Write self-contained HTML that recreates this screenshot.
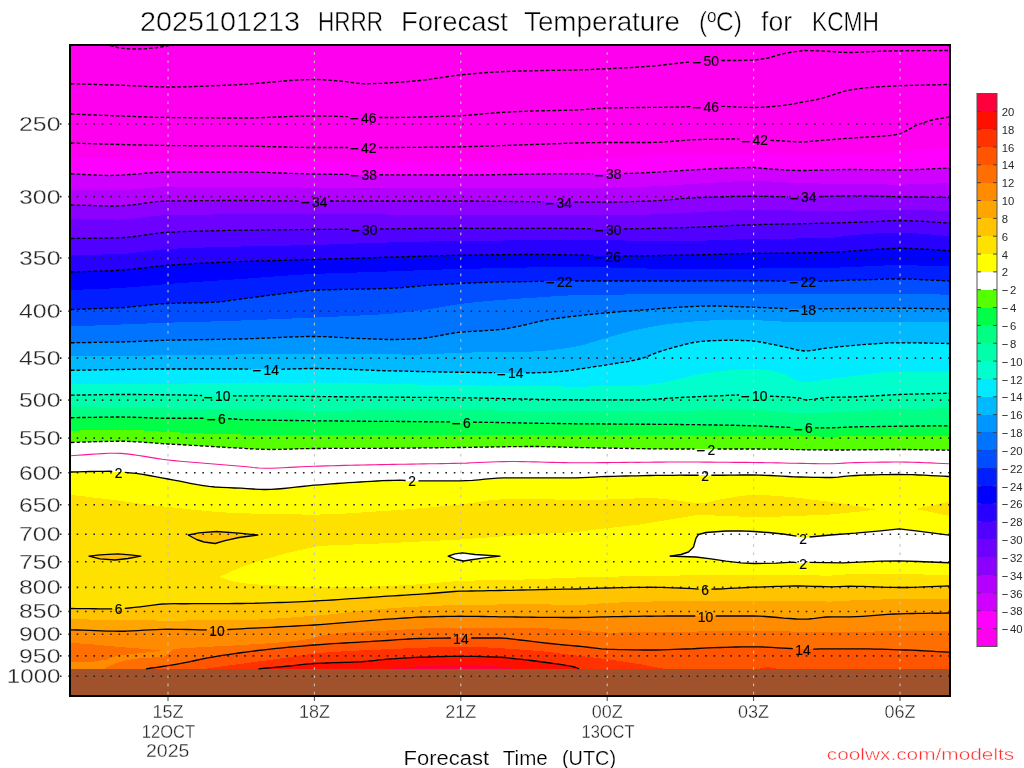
<!DOCTYPE html>
<html lang="en"><head><meta charset="utf-8"><title>2025101213 HRRR Forecast Temperature for KCMH</title>
<style>html,body{margin:0;padding:0;background:#fff;width:1024px;height:768px;overflow:hidden}</style>
</head><body>
<svg width="1024" height="768" viewBox="0 0 1024 768" style="position:absolute;left:0;top:0">
<rect x="0" y="0" width="1024" height="768" fill="#fff"/>
<defs><clipPath id="pc"><rect x="71" y="46" width="878" height="649"/></clipPath></defs>
<g clip-path="url(#pc)" shape-rendering="crispEdges">
<rect x="71" y="46" width="878" height="649" fill="rgb(255,0,238)"/>
<path d="M70.0 158.0 L71.0 158.0 L77.1 158.1 L83.1 158.1 L89.2 158.2 L95.2 158.2 L101.3 158.3 L107.4 158.4 L113.4 158.4 L119.5 158.5 L125.6 158.5 L131.6 158.6 L137.7 158.7 L143.8 158.7 L149.8 158.8 L155.9 158.9 L161.9 158.9 L168.0 159.0 L174.1 159.1 L180.2 159.2 L186.2 159.2 L192.3 159.3 L198.4 159.4 L204.5 159.6 L210.6 159.7 L216.7 159.8 L222.8 159.9 L228.8 160.0 L234.9 160.1 L241.0 160.2 L247.1 160.3 L253.2 160.4 L259.2 160.5 L265.3 160.6 L271.4 160.7 L277.5 160.8 L283.6 160.8 L289.7 160.9 L295.8 160.9 L301.8 161.0 L307.9 161.0 L314.0 161.0 L320.1 161.0 L326.2 161.0 L332.2 161.0 L338.3 161.0 L344.4 161.0 L350.5 161.0 L356.6 161.0 L362.7 161.0 L368.8 161.0 L374.8 161.0 L380.9 161.0 L387.0 161.0 L393.1 161.0 L399.2 161.0 L405.2 161.0 L411.3 161.0 L417.4 161.0 L423.5 161.0 L429.6 161.0 L435.7 161.0 L441.8 161.0 L447.8 161.0 L453.9 161.0 L460.0 161.0 L466.1 161.0 L472.2 161.0 L478.3 161.0 L484.4 161.0 L490.5 160.9 L496.6 160.9 L502.7 160.9 L508.8 160.8 L514.9 160.8 L521.1 160.7 L527.2 160.7 L533.3 160.6 L539.4 160.5 L545.5 160.5 L551.6 160.4 L557.7 160.3 L563.8 160.2 L569.9 160.1 L576.0 160.0 L582.2 159.8 L588.4 159.4 L594.6 158.9 L600.8 158.4 L607.0 158.0 L612.8 157.7 L618.6 157.5 L624.4 157.3 L630.2 157.1 L636.1 156.9 L641.9 156.7 L647.7 156.5 L653.5 156.3 L659.3 156.2 L665.1 156.0 L670.9 155.8 L676.8 155.7 L682.6 155.5 L688.4 155.3 L694.2 155.2 L700.0 155.0 L705.9 154.8 L711.8 154.6 L717.7 154.4 L723.6 154.2 L729.4 154.0 L735.3 153.8 L741.2 153.6 L747.1 153.5 L753.0 153.5 L758.9 153.6 L764.8 153.9 L770.6 154.3 L776.5 154.8 L782.4 155.2 L788.2 155.6 L794.1 155.9 L800.0 156.0 L806.2 155.9 L812.5 155.8 L818.8 155.5 L825.0 155.2 L831.2 154.9 L837.5 154.6 L843.8 154.3 L850.0 154.0 L856.2 153.8 L862.5 153.5 L868.8 153.3 L875.0 153.1 L881.2 152.9 L887.5 152.6 L893.8 152.3 L900.0 152.0 L906.1 151.6 L912.2 151.1 L918.4 150.4 L924.5 149.8 L930.6 149.1 L936.8 148.4 L942.9 147.7 L949.0 147.0 L950.0 147.0 L950.0 696.0 L70.0 696.0Z" fill="rgb(255,0,255)"/>
<path d="M70.0 173.8 L71.0 173.8 L77.5 174.1 L84.0 174.5 L90.5 174.8 L97.0 175.2 L103.5 175.4 L110.0 175.5 L115.8 175.4 L121.6 175.1 L127.4 174.7 L133.2 174.3 L139.0 173.8 L144.8 173.2 L150.6 172.8 L156.4 172.4 L162.2 172.1 L168.0 172.0 L174.1 172.0 L180.2 172.0 L186.2 172.0 L192.3 172.0 L198.4 172.0 L204.5 172.0 L210.6 172.0 L216.7 172.0 L222.8 172.0 L228.8 172.0 L234.9 172.0 L241.0 172.0 L247.1 172.0 L253.2 172.1 L259.2 172.3 L265.3 172.4 L271.4 172.6 L277.5 172.9 L283.6 173.1 L289.7 173.3 L295.8 173.5 L301.8 173.7 L307.9 173.9 L314.0 174.0 L320.1 174.1 L326.2 174.2 L332.2 174.3 L338.3 174.3 L344.4 174.4 L350.5 174.5 L356.6 174.5 L362.7 174.6 L368.8 174.6 L374.8 174.7 L380.9 174.7 L387.0 174.8 L393.1 174.8 L399.2 174.8 L405.2 174.8 L411.3 174.9 L417.4 174.9 L423.5 174.9 L429.6 174.9 L435.7 175.0 L441.8 175.0 L447.8 175.0 L453.9 175.0 L460.0 175.0 L466.1 175.0 L472.2 175.0 L478.3 174.9 L484.4 174.9 L490.5 174.8 L496.6 174.7 L502.7 174.6 L508.8 174.5 L514.9 174.4 L521.1 174.3 L527.2 174.2 L533.3 174.1 L539.4 174.0 L545.5 174.0 L551.6 173.9 L557.7 173.8 L563.8 173.8 L569.9 173.8 L576.0 173.8 L582.2 173.8 L588.3 173.8 L594.5 173.8 L600.7 173.8 L606.8 173.8 L613.0 173.8 L619.2 173.7 L625.3 173.5 L631.5 173.3 L637.7 173.1 L643.8 172.8 L650.0 172.5 L656.2 172.2 L662.5 171.8 L668.8 171.4 L675.0 171.0 L681.2 170.6 L687.5 170.2 L693.8 169.8 L700.0 169.5 L705.9 169.2 L711.8 168.9 L717.7 168.6 L723.6 168.3 L729.4 168.1 L735.3 167.8 L741.2 167.7 L747.1 167.5 L753.0 167.5 L760.5 168.0 L768.0 168.8 L774.4 169.2 L780.8 169.7 L787.2 170.1 L793.6 170.4 L800.0 170.5 L806.2 170.5 L812.5 170.3 L818.8 170.2 L825.0 170.0 L831.2 169.8 L837.5 169.7 L843.8 169.5 L850.0 169.5 L856.2 169.5 L862.5 169.6 L868.8 169.7 L875.0 169.8 L881.2 169.8 L887.5 169.9 L893.8 170.0 L900.0 170.0 L906.1 169.9 L912.2 169.8 L918.4 169.5 L924.5 169.2 L930.6 168.9 L936.8 168.6 L942.9 168.3 L949.0 168.0 L950.0 168.0 L950.0 696.0 L70.0 696.0Z" fill="rgb(207,0,255)"/>
<path d="M70.0 189.5 L71.0 189.5 L77.1 189.6 L83.2 189.6 L89.4 189.7 L95.5 189.8 L101.6 189.9 L107.8 189.9 L113.9 190.0 L120.0 190.0 L126.0 189.9 L132.0 189.5 L138.0 189.1 L144.0 188.5 L150.0 187.9 L156.0 187.5 L162.0 187.1 L168.0 187.0 L174.1 187.0 L180.2 187.0 L186.2 187.0 L192.3 187.0 L198.4 187.0 L204.5 187.1 L210.6 187.1 L216.7 187.1 L222.8 187.1 L228.8 187.1 L234.9 187.2 L241.0 187.2 L247.1 187.2 L253.2 187.2 L259.2 187.3 L265.3 187.3 L271.4 187.3 L277.5 187.4 L283.6 187.4 L289.7 187.4 L295.8 187.4 L301.8 187.5 L307.9 187.5 L314.0 187.5 L320.1 187.5 L326.2 187.5 L332.2 187.6 L338.3 187.6 L344.4 187.6 L350.5 187.6 L356.6 187.7 L362.7 187.7 L368.8 187.7 L374.8 187.8 L380.9 187.8 L387.0 187.8 L393.1 187.8 L399.2 187.9 L405.2 187.9 L411.3 187.9 L417.4 187.9 L423.5 187.9 L429.6 188.0 L435.7 188.0 L441.8 188.0 L447.8 188.0 L453.9 188.0 L460.0 188.0 L466.1 188.0 L472.2 188.0 L478.3 188.0 L484.4 188.0 L490.5 188.0 L496.6 188.0 L502.7 188.0 L508.8 188.0 L514.9 188.0 L521.1 188.0 L527.2 188.0 L533.3 188.0 L539.4 188.0 L545.5 188.0 L551.6 188.0 L557.7 188.0 L563.8 188.0 L569.9 188.0 L576.0 188.0 L582.2 188.0 L588.3 187.9 L594.5 187.9 L600.7 187.8 L606.8 187.7 L613.0 187.5 L619.2 187.4 L625.3 187.2 L631.5 187.1 L637.7 186.9 L643.8 186.7 L650.0 186.5 L656.2 186.3 L662.5 185.9 L668.8 185.6 L675.0 185.1 L681.2 184.7 L687.5 184.3 L693.8 183.9 L700.0 183.5 L705.9 183.2 L711.8 182.8 L717.7 182.4 L723.6 182.1 L729.4 181.7 L735.3 181.4 L741.2 181.2 L747.1 181.1 L753.0 181.0 L758.9 181.1 L764.8 181.2 L770.6 181.5 L776.5 181.8 L782.4 182.2 L788.2 182.5 L794.1 182.8 L800.0 183.0 L806.4 183.2 L812.8 183.4 L819.2 183.5 L825.6 183.6 L832.0 183.8 L838.2 183.8 L844.4 183.9 L850.5 184.0 L856.7 184.1 L862.9 184.2 L869.1 184.3 L875.3 184.4 L881.5 184.4 L887.6 184.5 L893.8 184.5 L900.0 184.5 L906.1 184.5 L912.2 184.3 L918.4 184.2 L924.5 183.9 L930.6 183.7 L936.8 183.4 L942.9 183.2 L949.0 183.0 L950.0 183.0 L950.0 696.0 L70.0 696.0Z" fill="rgb(180,0,255)"/>
<path d="M70.0 205.0 L71.0 205.0 L77.3 205.2 L83.6 205.3 L89.9 205.5 L96.1 205.7 L102.4 205.9 L108.7 206.0 L115.0 206.0 L120.9 205.8 L126.8 205.4 L132.7 204.8 L138.6 204.0 L144.4 203.2 L150.3 202.4 L156.2 201.7 L162.1 201.2 L168.0 201.0 L174.1 200.9 L180.2 200.8 L186.2 200.8 L192.3 200.7 L198.4 200.7 L204.5 200.6 L210.6 200.6 L216.7 200.6 L222.8 200.5 L228.8 200.5 L234.9 200.5 L241.0 200.5 L246.9 200.5 L252.8 200.6 L258.7 200.6 L264.6 200.7 L270.5 200.8 L276.4 200.8 L282.3 200.9 L288.2 200.9 L294.1 201.0 L300.0 201.0 L306.7 201.0 L313.3 201.0 L320.0 201.0 L326.1 201.0 L332.2 201.0 L338.3 201.0 L344.3 201.0 L350.4 201.0 L356.5 201.0 L362.6 201.0 L368.7 201.0 L374.8 201.0 L380.9 201.0 L387.0 201.0 L393.0 201.0 L399.1 201.0 L405.2 201.0 L411.3 201.0 L417.4 201.0 L423.5 201.0 L429.6 201.0 L435.7 201.0 L441.7 201.0 L447.8 201.0 L453.9 201.0 L460.0 201.0 L466.1 201.0 L472.2 201.0 L478.3 201.1 L484.4 201.1 L490.5 201.2 L496.6 201.2 L502.7 201.3 L508.8 201.4 L514.9 201.5 L521.1 201.5 L527.2 201.6 L533.3 201.7 L539.4 201.8 L545.5 201.8 L551.6 201.9 L557.7 201.9 L563.8 202.0 L569.9 202.0 L576.0 202.0 L582.2 202.0 L588.4 202.0 L594.6 202.0 L600.8 202.0 L607.0 202.0 L613.1 202.0 L619.3 201.9 L625.4 201.8 L631.6 201.6 L637.7 201.4 L643.9 201.2 L650.0 201.0 L656.2 200.7 L662.5 200.3 L668.8 199.8 L675.0 199.3 L681.2 198.7 L687.5 198.2 L693.8 197.8 L700.0 197.5 L705.9 197.3 L711.8 197.1 L717.7 196.9 L723.6 196.7 L729.4 196.6 L735.3 196.4 L741.2 196.3 L747.1 196.3 L753.0 196.2 L759.2 196.3 L765.3 196.4 L771.5 196.5 L777.7 196.6 L783.8 196.7 L790.0 196.8 L796.0 196.7 L802.0 196.7 L808.0 196.6 L814.0 196.6 L820.0 196.5 L826.0 196.4 L832.0 196.2 L838.0 196.1 L844.0 195.9 L850.0 195.8 L856.2 195.8 L862.5 195.9 L868.8 196.0 L875.0 196.1 L881.2 196.3 L887.5 196.5 L893.8 196.6 L900.0 196.8 L906.1 196.9 L912.2 197.0 L918.4 197.0 L924.5 197.1 L930.6 197.2 L936.8 197.3 L942.9 197.4 L949.0 197.5 L950.0 197.5 L950.0 696.0 L70.0 696.0Z" fill="rgb(140,0,255)"/>
<path d="M70.0 219.0 L71.0 219.0 L77.1 219.1 L83.2 219.1 L89.4 219.2 L95.5 219.3 L101.6 219.4 L107.8 219.4 L113.9 219.5 L120.0 219.5 L126.0 219.3 L132.0 218.8 L138.0 218.1 L144.0 217.3 L150.0 216.5 L156.0 215.8 L162.0 215.3 L168.0 215.0 L174.1 214.9 L180.2 214.8 L186.2 214.7 L192.3 214.7 L198.4 214.6 L204.5 214.5 L210.6 214.5 L216.7 214.4 L222.8 214.4 L228.8 214.3 L234.9 214.3 L241.0 214.2 L247.1 214.2 L253.2 214.2 L259.2 214.1 L265.3 214.1 L271.4 214.1 L277.5 214.1 L283.6 214.0 L289.7 214.0 L295.8 214.0 L301.8 214.0 L307.9 214.0 L314.0 214.0 L320.1 214.0 L326.2 214.0 L332.2 214.0 L338.3 214.1 L344.4 214.1 L350.5 214.2 L356.6 214.2 L362.7 214.3 L368.8 214.3 L374.8 214.4 L380.9 214.4 L387.0 214.5 L393.1 214.6 L399.2 214.6 L405.2 214.7 L411.3 214.7 L417.4 214.8 L423.5 214.8 L429.6 214.9 L435.7 214.9 L441.8 215.0 L447.8 215.0 L453.9 215.0 L460.0 215.0 L466.1 215.0 L472.2 215.0 L478.3 215.0 L484.4 215.0 L490.5 215.0 L496.6 215.0 L502.7 215.0 L508.8 215.0 L514.9 215.0 L521.1 215.0 L527.2 215.0 L533.3 215.0 L539.4 215.0 L545.5 215.0 L551.6 215.0 L557.7 215.0 L563.8 215.0 L569.9 215.0 L576.0 215.0 L582.2 215.0 L588.3 215.0 L594.5 215.0 L600.7 214.9 L606.8 214.9 L613.0 214.9 L619.2 214.8 L625.3 214.8 L631.5 214.7 L637.7 214.6 L643.8 214.6 L650.0 214.5 L656.2 214.4 L662.5 214.1 L668.8 213.8 L675.0 213.4 L681.2 213.1 L687.5 212.7 L693.8 212.3 L700.0 212.0 L705.9 211.7 L711.8 211.4 L717.7 211.1 L723.6 210.9 L729.4 210.6 L735.3 210.3 L741.2 210.2 L747.1 210.0 L753.0 210.0 L759.1 210.0 L765.2 210.1 L771.2 210.1 L777.3 210.2 L783.4 210.3 L789.5 210.4 L795.5 210.6 L801.6 210.7 L807.7 210.8 L813.8 210.9 L819.8 210.9 L825.9 211.0 L832.0 211.0 L838.2 211.0 L844.4 210.9 L850.5 210.7 L856.7 210.5 L862.9 210.4 L869.1 210.1 L875.3 210.0 L881.5 209.8 L887.6 209.6 L893.8 209.5 L900.0 209.5 L906.1 209.5 L912.2 209.7 L918.4 209.8 L924.5 210.1 L930.6 210.3 L936.8 210.6 L942.9 210.8 L949.0 211.0 L950.0 211.0 L950.0 696.0 L70.0 696.0Z" fill="rgb(110,0,255)"/>
<path d="M70.0 238.5 L71.0 238.5 L77.1 238.4 L83.2 238.3 L89.4 238.3 L95.5 238.2 L101.6 238.1 L107.8 238.0 L113.9 237.9 L120.0 237.8 L126.0 237.4 L132.0 236.8 L138.0 236.0 L144.0 235.1 L150.0 234.2 L156.0 233.4 L162.0 232.7 L168.0 232.2 L174.1 232.0 L180.2 231.7 L186.2 231.5 L192.3 231.3 L198.4 231.1 L204.5 231.0 L210.6 230.8 L216.7 230.7 L222.8 230.6 L228.8 230.4 L234.9 230.3 L241.0 230.2 L247.1 230.2 L253.2 230.1 L259.2 230.0 L265.3 229.9 L271.4 229.9 L277.5 229.8 L283.6 229.8 L289.7 229.7 L295.8 229.7 L301.8 229.6 L307.9 229.6 L314.0 229.5 L320.0 229.4 L326.0 229.4 L332.0 229.3 L338.0 229.3 L344.0 229.2 L350.0 229.2 L356.0 229.1 L362.0 229.1 L368.0 229.0 L374.1 228.9 L380.3 228.9 L386.4 228.8 L392.5 228.8 L398.7 228.7 L404.8 228.6 L410.9 228.6 L417.1 228.5 L423.2 228.4 L429.3 228.4 L435.5 228.3 L441.6 228.3 L447.7 228.3 L453.9 228.3 L460.0 228.2 L466.1 228.3 L472.2 228.3 L478.3 228.3 L484.4 228.3 L490.5 228.3 L496.6 228.3 L502.7 228.3 L508.8 228.3 L514.9 228.3 L521.1 228.3 L527.2 228.3 L533.3 228.3 L539.4 228.4 L545.5 228.4 L551.6 228.4 L557.7 228.4 L563.8 228.4 L569.9 228.5 L576.0 228.5 L582.2 228.6 L588.4 228.7 L594.6 228.8 L600.8 229.0 L607.0 229.0 L613.1 229.0 L619.2 228.9 L625.2 228.9 L631.3 228.8 L637.4 228.7 L643.5 228.6 L649.6 228.5 L655.7 228.3 L661.8 228.2 L667.8 228.0 L673.9 227.9 L680.0 227.8 L686.1 227.6 L692.2 227.4 L698.2 227.1 L704.3 226.9 L710.4 226.6 L716.5 226.3 L722.6 226.0 L728.7 225.7 L734.8 225.4 L740.8 225.2 L746.9 224.9 L753.0 224.8 L759.1 224.6 L765.2 224.4 L771.2 224.3 L777.3 224.2 L783.4 224.0 L789.5 223.9 L795.5 223.8 L801.6 223.7 L807.7 223.6 L813.8 223.4 L819.8 223.3 L825.9 223.2 L832.0 223.0 L838.3 222.8 L844.7 222.6 L851.0 222.4 L857.3 222.2 L863.7 222.0 L870.0 221.8 L876.0 221.5 L882.0 221.2 L888.0 220.8 L894.0 220.6 L900.0 220.5 L906.1 220.6 L912.2 220.8 L918.4 221.1 L924.5 221.4 L930.6 221.8 L936.8 222.3 L942.9 222.7 L949.0 223.0 L950.0 223.0 L950.0 696.0 L70.0 696.0Z" fill="rgb(80,0,255)"/>
<path d="M70.0 255.0 L71.0 255.0 L77.1 254.9 L83.2 254.8 L89.4 254.7 L95.5 254.6 L101.6 254.5 L107.8 254.3 L113.9 254.2 L120.0 254.0 L126.0 253.7 L132.0 253.1 L138.0 252.4 L144.0 251.6 L150.0 250.8 L156.0 250.1 L162.0 249.4 L168.0 249.0 L174.1 248.7 L180.2 248.4 L186.2 248.1 L192.3 247.9 L198.4 247.7 L204.5 247.5 L210.6 247.3 L216.7 247.1 L222.8 247.0 L228.8 246.8 L234.9 246.7 L241.0 246.5 L247.1 246.4 L253.2 246.2 L259.2 246.1 L265.3 246.0 L271.4 245.9 L277.5 245.8 L283.6 245.6 L289.7 245.5 L295.8 245.4 L301.8 245.3 L307.9 245.1 L314.0 245.0 L320.1 244.8 L326.2 244.6 L332.2 244.4 L338.3 244.2 L344.4 244.0 L350.5 243.8 L356.6 243.5 L362.7 243.3 L368.8 243.1 L374.8 242.9 L380.9 242.7 L387.0 242.5 L393.1 242.3 L399.2 242.2 L405.2 242.0 L411.3 241.9 L417.4 241.8 L423.5 241.6 L429.6 241.5 L435.7 241.4 L441.8 241.3 L447.8 241.2 L453.9 241.1 L460.0 241.0 L466.1 240.9 L472.2 240.8 L478.3 240.8 L484.4 240.7 L490.5 240.6 L496.6 240.5 L502.7 240.5 L508.8 240.4 L514.9 240.3 L521.1 240.3 L527.2 240.2 L533.3 240.2 L539.4 240.1 L545.5 240.1 L551.6 240.1 L557.7 240.0 L563.8 240.0 L569.9 240.0 L576.0 240.0 L582.1 240.0 L588.2 240.0 L594.4 240.1 L600.5 240.1 L606.6 240.2 L612.7 240.3 L618.8 240.4 L624.9 240.5 L631.1 240.5 L637.2 240.6 L643.3 240.7 L649.4 240.8 L655.5 240.9 L661.6 240.9 L667.8 241.0 L673.9 241.0 L680.0 241.0 L686.1 241.0 L692.2 240.9 L698.2 240.8 L704.3 240.6 L710.4 240.4 L716.5 240.2 L722.6 240.0 L728.7 239.7 L734.8 239.5 L740.8 239.3 L746.9 239.1 L753.0 239.0 L759.1 238.9 L765.2 238.8 L771.2 238.7 L777.3 238.7 L783.4 238.6 L789.5 238.5 L795.5 238.5 L801.6 238.4 L807.7 238.3 L813.8 238.2 L819.8 238.1 L825.9 237.9 L832.0 237.8 L838.0 237.1 L844.0 236.1 L850.0 235.2 L856.2 234.8 L862.5 234.3 L868.8 233.9 L875.0 233.5 L881.2 233.2 L887.5 233.0 L893.8 232.8 L900.0 232.8 L906.1 232.8 L912.2 233.1 L918.4 233.5 L924.5 234.0 L930.6 234.5 L936.8 235.0 L942.9 235.5 L949.0 236.0 L950.0 236.0 L950.0 696.0 L70.0 696.0Z" fill="rgb(40,0,255)"/>
<path d="M70.0 272.0 L71.0 272.0 L77.1 271.8 L83.2 271.6 L89.4 271.4 L95.5 271.2 L101.6 271.0 L107.8 270.8 L113.9 270.6 L120.0 270.2 L126.0 269.8 L132.0 269.3 L138.0 268.6 L144.0 267.9 L150.0 267.1 L156.0 266.4 L162.0 265.8 L168.0 265.2 L174.1 264.8 L180.2 264.4 L186.2 264.1 L192.3 263.7 L198.4 263.4 L204.5 263.1 L210.6 262.8 L216.7 262.5 L222.8 262.2 L228.8 262.0 L234.9 261.7 L241.0 261.5 L247.1 261.3 L253.2 261.1 L259.2 260.9 L265.3 260.8 L271.4 260.6 L277.5 260.4 L283.6 260.3 L289.7 260.1 L295.8 260.0 L301.8 259.8 L307.9 259.7 L314.0 259.5 L320.1 259.3 L326.2 259.1 L332.2 258.9 L338.3 258.8 L344.4 258.6 L350.5 258.4 L356.6 258.2 L362.7 258.0 L368.8 257.8 L374.8 257.6 L380.9 257.4 L387.0 257.2 L393.1 257.1 L399.2 256.9 L405.2 256.7 L411.3 256.5 L417.4 256.3 L423.5 256.1 L429.6 255.9 L435.7 255.8 L441.8 255.6 L447.8 255.5 L453.9 255.4 L460.0 255.2 L466.1 255.2 L472.2 255.1 L478.2 255.0 L484.3 254.9 L490.4 254.8 L496.5 254.7 L502.6 254.7 L508.7 254.6 L514.8 254.6 L520.8 254.5 L526.9 254.5 L533.0 254.5 L539.1 254.5 L545.3 254.6 L551.4 254.6 L557.6 254.7 L563.7 254.8 L569.9 254.9 L576.0 255.0 L582.2 255.1 L588.3 255.3 L594.5 255.6 L600.7 255.8 L606.8 255.9 L613.0 256.0 L619.1 256.0 L625.2 256.0 L631.3 255.9 L637.4 255.9 L643.5 255.8 L649.5 255.7 L655.6 255.6 L661.7 255.5 L667.8 255.4 L673.9 255.3 L680.0 255.2 L686.1 255.1 L692.2 255.0 L698.2 254.9 L704.3 254.7 L710.4 254.6 L716.5 254.4 L722.6 254.2 L728.7 254.1 L734.8 253.9 L740.8 253.8 L746.9 253.6 L753.0 253.5 L759.1 253.4 L765.2 253.3 L771.2 253.2 L777.3 253.1 L783.4 253.1 L789.5 253.0 L795.5 252.9 L801.6 252.8 L807.7 252.8 L813.8 252.7 L819.8 252.5 L825.9 252.4 L832.0 252.2 L838.3 252.0 L844.7 251.6 L851.0 251.1 L857.3 250.6 L863.7 250.2 L870.0 249.8 L876.0 249.4 L882.0 249.0 L888.0 248.6 L894.0 248.4 L900.0 248.2 L906.1 248.3 L912.2 248.5 L918.4 248.8 L924.5 249.2 L930.6 249.6 L936.8 250.0 L942.9 250.4 L949.0 250.8 L950.0 250.8 L950.0 696.0 L70.0 696.0Z" fill="rgb(0,0,255)"/>
<path d="M70.0 290.0 L71.0 290.0 L77.1 289.8 L83.2 289.5 L89.4 289.3 L95.5 289.1 L101.6 288.9 L107.8 288.6 L113.9 288.3 L120.0 288.0 L126.0 287.6 L132.0 287.2 L138.0 286.7 L144.0 286.1 L150.0 285.6 L156.0 285.0 L162.0 284.5 L168.0 284.0 L174.1 283.5 L180.2 283.1 L186.2 282.7 L192.3 282.3 L198.4 281.8 L204.5 281.4 L210.6 281.0 L216.7 280.6 L222.8 280.2 L228.8 279.8 L234.9 279.4 L241.0 279.0 L247.1 278.6 L253.2 278.1 L259.2 277.7 L265.3 277.2 L271.4 276.7 L277.5 276.3 L283.6 275.8 L289.7 275.4 L295.8 275.0 L301.8 274.6 L307.9 274.3 L314.0 274.0 L320.1 273.7 L326.2 273.5 L332.2 273.3 L338.3 273.0 L344.4 272.8 L350.5 272.6 L356.6 272.5 L362.7 272.3 L368.8 272.1 L374.8 271.9 L380.9 271.7 L387.0 271.5 L393.1 271.3 L399.2 271.1 L405.2 270.8 L411.3 270.6 L417.4 270.4 L423.5 270.2 L429.6 269.9 L435.7 269.7 L441.8 269.5 L447.8 269.3 L453.9 269.2 L460.0 269.0 L466.1 268.9 L472.2 268.7 L478.3 268.6 L484.4 268.4 L490.5 268.3 L496.6 268.1 L502.7 268.0 L508.8 267.8 L514.9 267.7 L521.1 267.6 L527.2 267.5 L533.3 267.4 L539.4 267.3 L545.5 267.2 L551.6 267.1 L557.7 267.1 L563.8 267.0 L569.9 267.0 L576.0 267.0 L582.1 267.0 L588.2 267.1 L594.4 267.2 L600.5 267.3 L606.6 267.4 L612.7 267.6 L618.8 267.7 L624.9 267.9 L631.1 268.1 L637.2 268.3 L643.3 268.4 L649.4 268.6 L655.5 268.7 L661.6 268.8 L667.8 268.9 L673.9 269.0 L680.0 269.0 L686.1 269.0 L692.2 269.0 L698.2 268.9 L704.3 268.9 L710.4 268.9 L716.5 268.8 L722.6 268.8 L728.7 268.7 L734.8 268.7 L740.8 268.6 L746.9 268.6 L753.0 268.5 L759.1 268.5 L765.2 268.4 L771.2 268.4 L777.3 268.3 L783.4 268.3 L789.5 268.2 L795.5 268.2 L801.6 268.1 L807.7 268.1 L813.8 268.0 L819.8 267.9 L825.9 267.9 L832.0 267.8 L838.0 267.6 L844.0 267.3 L850.0 267.0 L856.2 266.7 L862.5 266.5 L868.8 266.2 L875.0 265.9 L881.2 265.6 L887.5 265.4 L893.8 265.3 L900.0 265.2 L906.1 265.3 L912.2 265.4 L918.4 265.5 L924.5 265.7 L930.6 265.9 L936.8 266.1 L942.9 266.3 L949.0 266.5 L950.0 266.5 L950.0 696.0 L70.0 696.0Z" fill="rgb(0,30,255)"/>
<path d="M70.0 309.5 L71.0 309.5 L77.1 309.3 L83.2 309.1 L89.4 308.9 L95.5 308.7 L101.6 308.5 L107.8 308.3 L113.9 308.0 L120.0 307.8 L126.0 307.4 L132.0 306.8 L138.0 306.2 L144.0 305.6 L150.0 304.9 L156.0 304.3 L162.0 303.8 L168.0 303.5 L173.9 303.3 L179.8 303.1 L185.6 303.0 L191.5 302.9 L197.4 302.8 L203.2 302.7 L209.1 302.5 L215.0 302.2 L221.5 301.7 L228.0 300.9 L234.5 299.9 L241.0 299.0 L247.5 298.2 L254.0 297.3 L260.5 296.5 L267.0 295.6 L273.5 294.8 L280.0 294.0 L285.7 293.3 L291.3 292.5 L297.0 291.8 L302.7 291.1 L308.3 290.6 L314.0 290.2 L320.1 290.0 L326.2 289.8 L332.2 289.7 L338.3 289.5 L344.4 289.4 L350.5 289.3 L356.6 289.2 L362.7 289.1 L368.8 289.0 L374.8 288.9 L380.9 288.7 L387.0 288.5 L393.1 288.2 L399.3 287.8 L405.4 287.3 L411.6 286.8 L417.7 286.2 L423.9 285.7 L430.0 285.2 L436.0 284.9 L442.0 284.5 L448.0 284.1 L454.0 283.8 L460.0 283.5 L465.7 283.2 L471.4 283.0 L477.1 282.7 L482.9 282.5 L488.6 282.3 L494.3 282.1 L500.0 282.0 L505.5 281.9 L511.0 281.8 L516.5 281.7 L522.0 281.7 L527.5 281.6 L533.0 281.5 L539.8 281.4 L546.5 281.2 L553.2 281.1 L560.0 281.0 L565.3 281.0 L570.7 281.0 L576.0 281.0 L582.1 281.0 L588.2 281.0 L594.4 281.0 L600.5 281.0 L606.6 281.0 L612.7 281.0 L618.8 281.0 L624.9 281.0 L631.1 281.0 L637.2 281.0 L643.3 281.0 L649.4 281.0 L655.5 281.0 L661.6 281.0 L667.8 281.0 L673.9 281.0 L680.0 281.0 L686.1 281.0 L692.2 281.0 L698.2 281.0 L704.3 280.9 L710.4 280.9 L716.5 280.9 L722.6 280.8 L728.7 280.8 L734.8 280.8 L740.8 280.8 L746.9 280.8 L753.0 280.8 L759.1 280.8 L765.2 280.8 L771.3 280.9 L777.4 281.1 L783.6 281.2 L789.7 281.3 L795.8 281.4 L801.9 281.5 L808.0 281.5 L814.0 281.5 L820.0 281.3 L826.0 281.1 L832.0 280.9 L838.0 280.7 L844.0 280.4 L850.0 280.2 L856.2 280.1 L862.5 279.9 L868.8 279.7 L875.0 279.5 L881.2 279.3 L887.5 279.1 L893.8 279.0 L900.0 279.0 L906.1 279.1 L912.2 279.2 L918.4 279.5 L924.5 279.8 L930.6 280.1 L936.8 280.4 L942.9 280.7 L949.0 281.0 L950.0 281.0 L950.0 696.0 L70.0 696.0Z" fill="rgb(0,78,255)"/>
<path d="M70.0 326.5 L71.0 326.5 L77.1 326.3 L83.1 326.0 L89.2 325.8 L95.2 325.5 L101.3 325.3 L107.4 325.1 L113.4 324.8 L119.5 324.6 L125.6 324.3 L131.6 324.1 L137.7 323.9 L143.8 323.6 L149.8 323.4 L155.9 323.2 L161.9 323.0 L168.0 322.8 L174.1 322.5 L180.2 322.4 L186.2 322.2 L192.3 322.0 L198.4 321.8 L204.5 321.6 L210.6 321.5 L216.7 321.3 L222.8 321.1 L228.8 320.9 L234.9 320.7 L241.0 320.5 L247.1 320.3 L253.2 320.1 L259.2 319.8 L265.3 319.6 L271.4 319.3 L277.5 319.1 L283.6 318.8 L289.7 318.6 L295.8 318.3 L301.8 318.0 L307.9 317.8 L314.0 317.5 L320.1 317.2 L326.2 317.0 L332.2 316.7 L338.3 316.5 L344.4 316.2 L350.5 316.0 L356.6 315.7 L362.7 315.4 L368.8 315.1 L374.8 314.8 L380.9 314.4 L387.0 314.0 L393.1 313.5 L399.3 312.9 L405.4 312.2 L411.6 311.5 L417.7 310.7 L423.9 309.8 L430.0 309.0 L436.0 308.1 L442.0 307.0 L448.0 305.9 L454.0 304.9 L460.0 304.0 L465.7 303.3 L471.4 302.7 L477.1 302.1 L482.9 301.5 L488.6 301.0 L494.3 300.5 L500.0 300.0 L505.5 299.6 L511.0 299.2 L516.5 298.8 L522.0 298.4 L527.5 298.1 L533.0 297.8 L539.1 297.3 L545.3 296.9 L551.4 296.5 L557.6 296.1 L563.7 295.7 L569.9 295.4 L576.0 295.2 L582.1 295.1 L588.2 295.0 L594.4 294.9 L600.5 294.8 L606.6 294.7 L612.7 294.6 L618.8 294.6 L624.9 294.5 L631.1 294.4 L637.2 294.4 L643.3 294.3 L649.4 294.3 L655.5 294.2 L661.6 294.2 L667.8 294.1 L673.9 294.1 L680.0 294.0 L686.1 293.9 L692.2 293.9 L698.2 293.8 L704.3 293.8 L710.4 293.7 L716.5 293.7 L722.6 293.6 L728.7 293.6 L734.8 293.5 L740.8 293.5 L746.9 293.5 L753.0 293.5 L759.1 293.5 L765.2 293.5 L771.2 293.6 L777.3 293.6 L783.4 293.7 L789.5 293.7 L795.5 293.8 L801.6 293.8 L807.7 293.9 L813.8 293.9 L819.8 294.0 L825.9 294.0 L832.0 294.0 L838.2 294.0 L844.4 294.0 L850.5 293.9 L856.7 293.8 L862.9 293.8 L869.1 293.7 L875.3 293.7 L881.5 293.6 L887.6 293.5 L893.8 293.5 L900.0 293.5 L906.1 293.5 L912.2 293.6 L918.4 293.8 L924.5 294.0 L930.6 294.2 L936.8 294.4 L942.9 294.6 L949.0 294.8 L950.0 294.8 L950.0 696.0 L70.0 696.0Z" fill="rgb(0,115,255)"/>
<path d="M70.0 342.8 L71.0 342.8 L77.1 342.7 L83.2 342.6 L89.4 342.5 L95.5 342.4 L101.6 342.3 L107.8 342.2 L113.9 342.1 L120.0 342.0 L126.0 341.8 L132.0 341.6 L138.0 341.4 L144.0 341.1 L150.0 340.9 L156.0 340.6 L162.0 340.4 L168.0 340.2 L174.1 340.1 L180.2 340.0 L186.2 339.9 L192.3 339.8 L198.4 339.7 L204.5 339.6 L210.6 339.5 L216.7 339.4 L222.8 339.3 L228.8 339.2 L234.9 339.1 L241.0 339.0 L247.1 338.8 L253.2 338.6 L259.2 338.4 L265.3 338.1 L271.4 337.8 L277.5 337.5 L283.6 337.3 L289.7 337.0 L295.8 336.8 L301.8 336.6 L307.9 336.5 L314.0 336.5 L319.8 336.6 L325.5 336.7 L331.2 337.0 L337.0 337.3 L342.8 337.6 L348.5 338.0 L354.2 338.3 L360.0 338.5 L365.8 338.7 L371.7 338.9 L377.5 339.1 L383.3 339.3 L389.2 339.5 L395.0 339.5 L401.2 339.4 L407.5 339.2 L413.8 338.9 L420.0 338.5 L425.7 338.0 L431.4 337.1 L437.1 336.1 L442.9 335.0 L448.6 333.9 L454.3 333.0 L460.0 332.2 L465.7 331.8 L471.4 331.4 L477.1 331.1 L482.9 330.8 L488.6 330.4 L494.3 330.0 L500.0 329.5 L506.7 328.6 L513.3 327.3 L520.0 326.0 L526.2 324.6 L532.5 323.0 L538.8 321.5 L545.0 320.2 L551.2 319.2 L557.4 318.3 L563.6 317.5 L569.8 316.7 L576.0 316.0 L582.2 315.3 L588.4 314.6 L594.6 313.9 L600.8 313.3 L607.0 312.8 L612.5 312.3 L618.0 311.9 L623.5 311.4 L629.0 311.1 L634.5 310.7 L640.0 310.2 L645.7 309.8 L651.4 309.3 L657.1 308.9 L662.9 308.4 L668.6 308.0 L674.3 307.6 L680.0 307.2 L686.0 306.9 L692.0 306.6 L698.0 306.3 L704.0 306.1 L710.0 306.0 L716.1 306.0 L722.3 306.2 L728.4 306.4 L734.6 306.6 L740.7 306.8 L746.9 307.0 L753.0 307.2 L759.1 307.5 L765.2 307.7 L771.3 308.0 L777.4 308.2 L783.6 308.5 L789.7 308.7 L795.8 308.8 L801.9 309.0 L808.0 309.0 L814.0 309.0 L820.0 308.9 L826.0 308.8 L832.0 308.7 L838.0 308.6 L844.0 308.6 L850.0 308.5 L856.2 308.5 L862.5 308.4 L868.8 308.4 L875.0 308.3 L881.2 308.3 L887.5 308.3 L893.8 308.3 L900.0 308.2 L906.1 308.3 L912.2 308.3 L918.4 308.4 L924.5 308.5 L930.6 308.7 L936.8 308.8 L942.9 308.9 L949.0 309.0 L950.0 309.0 L950.0 696.0 L70.0 696.0Z" fill="rgb(0,150,255)"/>
<path d="M70.0 356.5 L71.0 356.5 L77.1 356.4 L83.1 356.3 L89.2 356.3 L95.2 356.2 L101.3 356.1 L107.4 356.0 L113.4 355.9 L119.5 355.8 L125.6 355.8 L131.6 355.7 L137.7 355.6 L143.8 355.5 L149.8 355.5 L155.9 355.4 L161.9 355.3 L168.0 355.2 L174.1 355.2 L180.2 355.1 L186.2 355.1 L192.3 355.0 L198.4 354.9 L204.5 354.8 L210.6 354.8 L216.7 354.7 L222.8 354.6 L228.8 354.6 L234.9 354.5 L241.0 354.4 L247.1 354.4 L253.2 354.3 L259.2 354.3 L265.3 354.2 L271.4 354.2 L277.5 354.1 L283.6 354.1 L289.7 354.1 L295.8 354.0 L301.8 354.0 L307.9 354.0 L314.0 354.0 L319.9 354.0 L325.8 354.0 L331.7 354.0 L337.6 354.1 L343.4 354.1 L349.3 354.1 L355.2 354.2 L361.1 354.2 L367.0 354.2 L372.9 354.3 L378.8 354.3 L384.7 354.4 L390.6 354.4 L396.4 354.4 L402.3 354.5 L408.2 354.5 L414.1 354.5 L420.0 354.5 L425.7 354.4 L431.4 354.2 L437.1 353.9 L442.9 353.6 L448.6 353.2 L454.3 353.0 L460.0 352.8 L466.1 352.6 L472.2 352.5 L478.2 352.4 L484.3 352.3 L490.4 352.2 L496.5 352.2 L502.6 352.1 L508.7 352.0 L514.8 351.9 L520.8 351.8 L526.9 351.7 L533.0 351.5 L539.1 351.2 L545.3 350.7 L551.4 350.1 L557.6 349.3 L563.7 348.5 L569.9 347.5 L576.0 346.5 L582.2 345.2 L588.4 343.5 L594.6 341.5 L600.8 339.6 L607.0 337.8 L612.5 336.2 L618.0 334.6 L623.5 333.1 L629.0 331.6 L634.5 330.2 L640.0 329.0 L645.7 327.9 L651.4 326.8 L657.1 325.8 L662.9 324.9 L668.6 324.0 L674.3 323.3 L680.0 322.8 L685.7 322.2 L691.4 321.7 L697.1 321.3 L702.9 320.9 L708.6 320.5 L714.3 320.3 L720.0 320.2 L725.5 320.2 L731.0 320.2 L736.5 320.2 L742.0 320.2 L747.5 320.2 L753.0 320.2 L758.9 320.3 L764.8 320.6 L770.6 320.9 L776.5 321.2 L782.4 321.6 L788.2 321.9 L794.1 322.2 L800.0 322.2 L805.9 322.2 L811.8 322.2 L817.6 322.2 L823.5 322.2 L829.4 322.2 L835.3 322.2 L841.2 322.2 L847.1 322.2 L852.9 322.2 L858.8 322.2 L864.7 322.2 L870.6 322.2 L876.5 322.2 L882.4 322.2 L888.2 322.2 L894.1 322.2 L900.0 322.2 L906.1 322.2 L912.2 322.2 L918.4 322.2 L924.5 322.2 L930.6 322.2 L936.8 322.2 L942.9 322.2 L949.0 322.2 L950.0 322.2 L950.0 696.0 L70.0 696.0Z" fill="rgb(0,185,255)"/>
<path d="M70.0 370.2 L71.0 370.2 L77.1 370.2 L83.1 370.1 L89.2 370.0 L95.2 369.9 L101.3 369.8 L107.4 369.7 L113.4 369.6 L119.5 369.5 L125.6 369.4 L131.6 369.3 L137.7 369.2 L143.8 369.1 L149.8 369.1 L155.9 369.0 L161.9 369.0 L168.0 369.0 L174.1 369.0 L180.2 369.0 L186.2 369.0 L192.3 369.0 L198.4 369.0 L204.5 369.0 L210.6 369.0 L216.7 369.0 L222.8 369.0 L228.8 369.0 L234.9 369.0 L241.0 369.0 L247.2 369.1 L253.5 369.2 L259.8 369.4 L266.0 369.5 L272.0 369.5 L278.0 369.3 L284.0 369.2 L290.0 369.0 L296.0 368.8 L302.0 368.7 L308.0 368.5 L314.0 368.5 L320.1 368.5 L326.2 368.6 L332.2 368.8 L338.3 368.9 L344.4 369.2 L350.5 369.4 L356.6 369.6 L362.7 369.9 L368.8 370.1 L374.8 370.4 L380.9 370.6 L387.0 370.8 L393.1 370.9 L399.2 371.0 L405.2 371.2 L411.3 371.3 L417.4 371.5 L423.5 371.6 L429.6 371.7 L435.7 371.9 L441.8 372.0 L447.8 372.1 L453.9 372.2 L460.0 372.2 L466.0 372.3 L472.0 372.4 L478.0 372.5 L484.0 372.6 L490.0 372.6 L496.0 372.7 L502.0 372.7 L508.0 372.7 L514.0 372.8 L520.3 372.8 L526.7 372.8 L533.0 372.8 L539.8 372.6 L546.5 372.4 L553.2 372.0 L560.0 371.5 L565.3 371.0 L570.7 370.3 L576.0 369.5 L582.2 368.6 L588.4 367.7 L594.6 366.7 L600.8 365.8 L607.0 364.8 L612.5 363.9 L618.0 363.1 L623.5 362.2 L629.0 361.3 L634.5 360.2 L640.0 359.0 L646.7 356.8 L653.3 354.0 L660.0 351.5 L666.7 349.4 L673.3 347.5 L680.0 345.8 L686.7 344.0 L693.3 342.5 L700.0 341.5 L706.0 341.1 L712.0 340.7 L718.0 340.5 L724.0 340.3 L730.0 340.2 L735.8 340.3 L741.5 340.5 L747.2 340.7 L753.0 341.0 L760.5 342.0 L768.0 343.5 L774.0 344.7 L780.0 346.0 L785.0 347.1 L790.0 348.2 L797.5 350.0 L805.0 351.0 L810.2 350.7 L815.5 349.9 L820.8 349.0 L826.0 348.2 L832.0 347.6 L838.0 346.9 L844.0 346.3 L850.0 345.8 L856.2 345.2 L862.5 344.7 L868.8 344.2 L875.0 343.8 L881.2 343.4 L887.5 343.0 L893.8 342.8 L900.0 342.8 L906.1 342.8 L912.2 342.8 L918.4 342.9 L924.5 343.0 L930.6 343.2 L936.8 343.3 L942.9 343.4 L949.0 343.5 L950.0 343.5 L950.0 696.0 L70.0 696.0Z" fill="rgb(0,235,255)"/>
<path d="M70.0 383.5 L71.0 383.5 L77.1 383.5 L83.1 383.5 L89.2 383.5 L95.2 383.5 L101.3 383.5 L107.4 383.5 L113.4 383.5 L119.5 383.5 L125.6 383.5 L131.6 383.5 L137.7 383.5 L143.8 383.5 L149.8 383.5 L155.9 383.5 L161.9 383.5 L168.0 383.5 L174.1 383.5 L180.2 383.5 L186.2 383.5 L192.3 383.4 L198.4 383.4 L204.5 383.4 L210.6 383.3 L216.7 383.3 L222.8 383.3 L228.8 383.2 L234.9 383.2 L241.0 383.1 L247.1 383.1 L253.2 383.0 L259.2 383.0 L265.3 382.9 L271.4 382.9 L277.5 382.9 L283.6 382.8 L289.7 382.8 L295.8 382.8 L301.8 382.8 L307.9 382.8 L314.0 382.8 L320.1 382.8 L326.2 382.8 L332.2 382.8 L338.3 382.9 L344.4 383.0 L350.5 383.1 L356.6 383.1 L362.7 383.3 L368.8 383.4 L374.8 383.5 L380.9 383.6 L387.0 383.8 L393.1 383.9 L399.2 384.0 L405.2 384.2 L411.3 384.3 L417.4 384.5 L423.5 384.6 L429.6 384.7 L435.7 384.8 L441.8 385.0 L447.8 385.1 L453.9 385.2 L460.0 385.2 L466.1 385.3 L472.2 385.4 L478.3 385.5 L484.4 385.6 L490.5 385.7 L496.6 385.8 L502.7 385.9 L508.8 385.9 L514.9 386.0 L521.1 386.1 L527.2 386.2 L533.3 386.2 L539.4 386.3 L545.5 386.4 L551.6 386.4 L557.7 386.4 L563.8 386.5 L569.9 386.5 L576.0 386.5 L581.8 386.5 L587.6 386.5 L593.5 386.4 L599.3 386.3 L605.1 386.2 L610.9 386.1 L616.7 386.0 L622.5 385.8 L628.4 385.6 L634.2 385.5 L640.0 385.2 L645.7 384.9 L651.4 384.3 L657.1 383.4 L662.9 382.4 L668.6 381.3 L674.3 380.1 L680.0 379.0 L686.7 377.3 L693.3 375.4 L700.0 374.0 L705.9 373.1 L711.8 372.3 L717.7 371.5 L723.6 370.8 L729.4 370.2 L735.3 369.7 L741.2 369.3 L747.1 369.1 L753.0 369.0 L760.5 369.4 L768.0 370.2 L774.0 371.3 L780.0 372.8 L786.2 375.1 L792.5 378.2 L798.8 380.9 L805.0 382.0 L810.2 381.7 L815.5 381.1 L820.8 380.3 L826.0 379.5 L832.0 378.7 L838.0 378.0 L844.0 377.2 L850.0 376.5 L856.2 375.7 L862.5 374.9 L868.8 374.1 L875.0 373.3 L881.2 372.6 L887.5 372.0 L893.8 371.6 L900.0 371.5 L906.1 371.5 L912.2 371.5 L918.4 371.5 L924.5 371.5 L930.6 371.5 L936.8 371.5 L942.9 371.5 L949.0 371.5 L950.0 371.5 L950.0 696.0 L70.0 696.0Z" fill="rgb(0,255,205)"/>
<path d="M70.0 395.2 L71.0 395.2 L77.1 395.1 L83.2 395.0 L89.4 394.9 L95.5 394.8 L101.6 394.7 L107.8 394.6 L113.9 394.5 L120.0 394.5 L126.0 394.5 L132.0 394.5 L138.0 394.5 L144.0 394.6 L150.0 394.6 L156.0 394.7 L162.0 394.7 L168.0 394.8 L174.2 394.8 L180.5 395.0 L186.8 395.1 L193.0 395.3 L199.2 395.5 L205.5 395.6 L211.8 395.7 L218.0 395.8 L223.8 395.8 L229.5 395.8 L235.2 395.8 L241.0 395.8 L247.1 395.8 L253.2 395.8 L259.2 395.8 L265.3 395.9 L271.4 396.0 L277.5 396.0 L283.6 396.1 L289.7 396.2 L295.8 396.3 L301.8 396.4 L307.9 396.4 L314.0 396.5 L320.1 396.6 L326.2 396.6 L332.2 396.7 L338.3 396.7 L344.4 396.8 L350.5 396.8 L356.6 396.9 L362.7 396.9 L368.8 396.9 L374.8 397.0 L380.9 397.0 L387.0 397.1 L393.1 397.1 L399.2 397.2 L405.2 397.2 L411.3 397.3 L417.4 397.3 L423.5 397.4 L429.6 397.4 L435.7 397.5 L441.8 397.6 L447.8 397.6 L453.9 397.7 L460.0 397.8 L466.1 397.8 L472.2 397.9 L478.3 398.0 L484.4 398.2 L490.5 398.3 L496.6 398.4 L502.7 398.6 L508.8 398.7 L514.9 398.8 L521.1 399.0 L527.2 399.1 L533.3 399.3 L539.4 399.4 L545.5 399.5 L551.6 399.6 L557.7 399.6 L563.8 399.7 L569.9 399.7 L576.0 399.8 L581.8 399.7 L587.6 399.8 L593.5 399.8 L599.3 399.8 L605.1 399.8 L610.9 399.8 L616.7 399.8 L622.5 399.8 L628.4 399.8 L634.2 399.8 L640.0 399.8 L645.7 399.7 L651.4 399.4 L657.1 399.1 L662.9 398.7 L668.6 398.2 L674.3 397.8 L680.0 397.5 L685.7 397.2 L691.4 397.0 L697.1 396.7 L702.9 396.5 L708.6 396.2 L714.3 396.0 L720.0 395.8 L726.7 395.4 L733.3 395.1 L740.0 395.0 L746.7 395.1 L753.3 395.4 L760.0 395.8 L765.7 396.0 L771.4 396.2 L777.1 396.5 L782.9 396.8 L788.6 397.1 L794.3 397.6 L800.0 398.2 L805.0 399.8 L811.8 399.4 L818.5 398.6 L825.2 397.7 L832.0 397.2 L838.0 397.2 L844.0 397.1 L850.0 397.0 L856.2 396.8 L862.5 396.5 L868.8 396.2 L875.0 395.8 L881.2 395.5 L887.5 395.1 L893.8 394.8 L900.0 394.5 L906.1 394.3 L912.2 394.1 L918.4 394.0 L924.5 393.8 L930.6 393.7 L936.8 393.5 L942.9 393.4 L949.0 393.2 L950.0 393.2 L950.0 696.0 L70.0 696.0Z" fill="rgb(0,255,170)"/>
<path d="M70.0 407.0 L71.0 407.0 L77.1 407.1 L83.1 407.2 L89.2 407.3 L95.2 407.4 L101.3 407.5 L107.4 407.6 L113.4 407.7 L119.5 407.8 L125.6 407.9 L131.6 407.9 L137.7 408.0 L143.8 408.1 L149.8 408.2 L155.9 408.3 L161.9 408.4 L168.0 408.5 L174.1 408.6 L180.2 408.7 L186.2 408.8 L192.3 408.9 L198.4 409.0 L204.5 409.1 L210.6 409.2 L216.7 409.3 L222.8 409.4 L228.8 409.6 L234.9 409.7 L241.0 409.8 L247.1 409.9 L253.2 410.0 L259.2 410.1 L265.3 410.1 L271.4 410.2 L277.5 410.3 L283.6 410.3 L289.7 410.4 L295.8 410.4 L301.8 410.5 L307.9 410.5 L314.0 410.5 L320.1 410.5 L326.2 410.5 L332.2 410.5 L338.3 410.5 L344.4 410.5 L350.5 410.5 L356.6 410.4 L362.7 410.4 L368.8 410.4 L374.8 410.4 L380.9 410.4 L387.0 410.4 L393.1 410.4 L399.2 410.3 L405.2 410.3 L411.3 410.3 L417.4 410.3 L423.5 410.3 L429.6 410.3 L435.7 410.3 L441.8 410.3 L447.8 410.3 L453.9 410.3 L460.0 410.2 L466.1 410.3 L472.2 410.3 L478.3 410.3 L484.4 410.4 L490.5 410.4 L496.6 410.5 L502.7 410.6 L508.8 410.6 L514.9 410.7 L521.1 410.8 L527.2 410.9 L533.3 410.9 L539.4 411.0 L545.5 411.1 L551.6 411.1 L557.7 411.2 L563.8 411.2 L569.9 411.2 L576.0 411.2 L582.1 411.2 L588.2 411.2 L594.4 411.2 L600.5 411.2 L606.6 411.2 L612.7 411.2 L618.8 411.1 L624.9 411.1 L631.1 411.1 L637.2 411.0 L643.3 411.0 L649.4 411.0 L655.5 410.9 L661.6 410.9 L667.8 410.8 L673.9 410.8 L680.0 410.8 L686.1 410.7 L692.2 410.6 L698.2 410.5 L704.3 410.3 L710.4 410.2 L716.5 410.1 L722.6 409.9 L728.7 409.8 L734.8 409.7 L740.8 409.6 L746.9 409.5 L753.0 409.5 L760.5 410.0 L768.0 410.8 L774.2 411.3 L780.3 411.8 L786.5 412.4 L792.7 412.8 L798.8 413.1 L805.0 413.2 L810.6 413.2 L816.2 413.1 L821.9 412.9 L827.5 412.6 L833.1 412.3 L838.8 412.0 L844.4 411.8 L850.0 411.5 L856.2 411.2 L862.5 410.9 L868.8 410.5 L875.0 410.1 L881.2 409.8 L887.5 409.5 L893.8 409.2 L900.0 409.0 L906.1 408.9 L912.2 408.8 L918.4 408.7 L924.5 408.6 L930.6 408.5 L936.8 408.4 L942.9 408.3 L949.0 408.2 L950.0 408.2 L950.0 696.0 L70.0 696.0Z" fill="rgb(0,255,130)"/>
<path d="M70.0 417.8 L71.0 417.8 L77.1 417.6 L83.2 417.5 L89.4 417.4 L95.5 417.3 L101.6 417.2 L107.8 417.1 L113.9 417.0 L120.0 417.0 L126.0 417.1 L132.0 417.2 L138.0 417.4 L144.0 417.6 L150.0 417.9 L156.0 418.1 L162.0 418.2 L168.0 418.2 L173.8 418.2 L179.6 418.2 L185.3 418.2 L191.1 418.2 L196.9 418.2 L202.7 418.2 L208.4 418.2 L214.2 418.2 L220.0 418.2 L225.2 418.4 L230.5 418.8 L235.8 419.2 L241.0 419.5 L247.1 419.7 L253.2 419.8 L259.2 420.0 L265.3 420.1 L271.4 420.2 L277.5 420.3 L283.6 420.4 L289.7 420.5 L295.8 420.5 L301.8 420.6 L307.9 420.7 L314.0 420.8 L320.1 420.8 L326.2 420.9 L332.2 420.9 L338.3 421.0 L344.4 421.1 L350.5 421.1 L356.6 421.2 L362.7 421.2 L368.8 421.3 L374.8 421.3 L380.9 421.3 L387.0 421.4 L393.1 421.4 L399.2 421.5 L405.2 421.5 L411.3 421.6 L417.4 421.6 L423.5 421.7 L429.6 421.7 L435.7 421.8 L441.8 421.8 L447.8 421.9 L453.9 421.9 L460.0 422.0 L466.1 422.1 L472.2 422.2 L478.3 422.2 L484.4 422.3 L490.5 422.4 L496.6 422.5 L502.7 422.6 L508.8 422.7 L514.9 422.8 L521.1 422.9 L527.2 423.1 L533.3 423.2 L539.4 423.3 L545.5 423.4 L551.6 423.4 L557.7 423.5 L563.8 423.6 L569.9 423.7 L576.0 423.8 L582.1 423.8 L588.2 423.9 L594.4 423.9 L600.5 423.9 L606.6 424.0 L612.7 424.0 L618.8 424.1 L624.9 424.1 L631.1 424.1 L637.2 424.2 L643.3 424.2 L649.4 424.2 L655.5 424.3 L661.6 424.3 L667.8 424.4 L673.9 424.4 L680.0 424.5 L686.1 424.6 L692.2 424.6 L698.2 424.7 L704.3 424.8 L710.4 424.9 L716.5 425.0 L722.6 425.1 L728.7 425.2 L734.8 425.3 L740.8 425.5 L746.9 425.6 L753.0 425.8 L758.9 425.9 L764.8 426.2 L770.7 426.5 L776.6 426.8 L782.4 427.1 L788.3 427.3 L794.2 427.5 L800.1 427.7 L806.0 427.8 L812.5 427.8 L819.0 427.8 L825.5 427.8 L832.0 427.8 L838.0 427.6 L844.0 427.3 L850.0 427.0 L856.2 426.9 L862.5 426.7 L868.8 426.6 L875.0 426.6 L881.2 426.5 L887.5 426.4 L893.8 426.3 L900.0 426.2 L906.1 426.2 L912.2 426.1 L918.4 426.0 L924.5 426.0 L930.6 425.9 L936.8 425.9 L942.9 425.8 L949.0 425.8 L950.0 425.8 L950.0 696.0 L70.0 696.0Z" fill="rgb(0,255,70)"/>
<path d="M70.0 430.8 L71.0 430.8 L77.1 430.6 L83.2 430.4 L89.4 430.2 L95.5 430.0 L101.6 429.8 L107.8 429.6 L113.9 429.5 L120.0 429.5 L126.0 429.6 L132.0 429.8 L138.0 430.1 L144.0 430.5 L150.0 430.9 L156.0 431.3 L162.0 431.7 L168.0 432.0 L174.1 432.3 L180.2 432.5 L186.2 432.8 L192.3 433.0 L198.4 433.3 L204.5 433.5 L210.6 433.8 L216.7 434.0 L222.8 434.1 L228.8 434.3 L234.9 434.4 L241.0 434.5 L247.1 434.6 L253.2 434.6 L259.2 434.7 L265.3 434.8 L271.4 434.8 L277.5 434.9 L283.6 434.9 L289.7 434.9 L295.8 435.0 L301.8 435.0 L307.9 435.0 L314.0 435.0 L320.1 435.0 L326.2 435.0 L332.2 435.0 L338.3 435.0 L344.4 434.9 L350.5 434.9 L356.6 434.9 L362.7 434.9 L368.8 434.8 L374.8 434.8 L380.9 434.8 L387.0 434.8 L393.1 434.7 L399.2 434.7 L405.2 434.7 L411.3 434.6 L417.4 434.6 L423.5 434.6 L429.6 434.6 L435.7 434.5 L441.8 434.5 L447.8 434.5 L453.9 434.5 L460.0 434.5 L466.1 434.5 L472.2 434.5 L478.3 434.5 L484.4 434.5 L490.5 434.6 L496.6 434.6 L502.7 434.6 L508.8 434.6 L514.9 434.7 L521.1 434.7 L527.2 434.7 L533.3 434.8 L539.4 434.8 L545.5 434.8 L551.6 434.9 L557.7 434.9 L563.8 434.9 L569.9 435.0 L576.0 435.0 L581.9 435.0 L587.8 435.0 L593.7 435.1 L599.6 435.1 L605.5 435.1 L611.4 435.1 L617.3 435.2 L623.2 435.2 L629.1 435.2 L635.0 435.2 L640.9 435.2 L646.8 435.3 L652.7 435.3 L658.6 435.3 L664.5 435.3 L670.4 435.4 L676.3 435.4 L682.2 435.4 L688.1 435.4 L694.0 435.5 L699.9 435.5 L705.8 435.5 L711.7 435.5 L717.6 435.6 L723.5 435.6 L729.4 435.6 L735.3 435.6 L741.2 435.7 L747.1 435.7 L753.0 435.8 L759.1 435.8 L765.2 435.9 L771.2 435.9 L777.3 436.0 L783.4 436.1 L789.5 436.1 L795.5 436.2 L801.6 436.3 L807.7 436.4 L813.8 436.4 L819.8 436.5 L825.9 436.5 L832.0 436.5 L838.2 436.5 L844.4 436.4 L850.5 436.4 L856.7 436.3 L862.9 436.2 L869.1 436.1 L875.3 436.0 L881.5 435.9 L887.6 435.8 L893.8 435.8 L900.0 435.8 L906.1 435.8 L912.2 435.8 L918.4 435.9 L924.5 436.0 L930.6 436.2 L936.8 436.3 L942.9 436.4 L949.0 436.5 L950.0 436.5 L950.0 696.0 L70.0 696.0Z" fill="rgb(85,255,0)"/>
<path d="M70.0 442.5 L71.0 442.5 L77.1 442.3 L83.2 442.1 L89.4 441.9 L95.5 441.7 L101.6 441.5 L107.8 441.4 L113.9 441.3 L120.0 441.2 L126.0 441.3 L132.0 441.6 L138.0 441.9 L144.0 442.3 L150.0 442.7 L156.0 443.2 L162.0 443.6 L168.0 444.0 L174.4 444.4 L180.8 444.7 L187.2 445.0 L193.6 445.4 L200.0 445.8 L205.9 446.1 L211.7 446.5 L217.6 446.8 L223.4 447.2 L229.3 447.6 L235.1 447.9 L241.0 448.2 L246.8 448.6 L252.6 448.9 L258.4 449.2 L264.2 449.4 L270.0 449.5 L276.3 449.4 L282.6 449.3 L288.9 449.1 L295.1 448.9 L301.4 448.7 L307.7 448.6 L314.0 448.5 L320.1 448.5 L326.2 448.4 L332.2 448.4 L338.3 448.4 L344.4 448.4 L350.5 448.4 L356.6 448.4 L362.7 448.3 L368.8 448.3 L374.8 448.3 L380.9 448.3 L387.0 448.2 L393.1 448.2 L399.2 448.2 L405.2 448.1 L411.3 448.1 L417.4 448.0 L423.5 447.9 L429.6 447.9 L435.7 447.8 L441.8 447.7 L447.8 447.6 L453.9 447.6 L460.0 447.5 L466.1 447.4 L472.2 447.3 L478.2 447.2 L484.3 447.1 L490.4 447.0 L496.5 446.9 L502.6 446.8 L508.7 446.7 L514.8 446.6 L520.8 446.6 L526.9 446.5 L533.0 446.5 L539.1 446.5 L545.3 446.7 L551.4 446.8 L557.6 447.0 L563.7 447.2 L569.9 447.4 L576.0 447.5 L582.1 447.6 L588.2 447.7 L594.4 447.9 L600.5 448.0 L606.6 448.1 L612.7 448.2 L618.8 448.3 L624.9 448.4 L631.1 448.5 L637.2 448.6 L643.3 448.7 L649.4 448.8 L655.5 448.9 L661.6 448.9 L667.8 449.0 L673.9 449.0 L680.0 449.0 L685.8 449.0 L691.6 449.0 L697.4 449.0 L703.2 449.0 L709.0 449.0 L715.3 449.0 L721.6 449.0 L727.9 449.0 L734.1 449.0 L740.4 449.0 L746.7 449.0 L753.0 449.0 L759.1 449.0 L765.2 449.1 L771.2 449.1 L777.3 449.2 L783.4 449.3 L789.5 449.4 L795.5 449.6 L801.6 449.7 L807.7 449.8 L813.8 449.9 L819.8 449.9 L825.9 450.0 L832.0 450.0 L838.2 450.0 L844.4 450.0 L850.5 449.9 L856.7 449.8 L862.9 449.8 L869.1 449.7 L875.3 449.7 L881.5 449.6 L887.6 449.5 L893.8 449.5 L900.0 449.5 L906.1 449.5 L912.2 449.6 L918.4 449.7 L924.5 449.8 L930.6 449.9 L936.8 450.0 L942.9 450.1 L949.0 450.2 L950.0 450.2 L950.0 696.0 L70.0 696.0Z" fill="rgb(255,255,255)"/>
<path d="M70.0 472.0 L71.0 472.0 L77.5 471.9 L84.0 471.7 L90.5 471.5 L97.0 471.4 L103.5 471.3 L110.0 471.2 L118.5 472.0 L124.2 472.4 L130.0 472.8 L136.3 473.4 L142.7 474.4 L149.0 475.5 L155.3 476.7 L161.7 477.9 L168.0 479.0 L173.9 480.1 L179.8 481.2 L185.6 482.4 L191.5 483.6 L197.4 484.7 L203.2 485.6 L209.1 486.4 L215.0 487.0 L221.5 487.4 L228.0 487.7 L234.5 488.0 L241.0 488.2 L247.0 488.6 L253.0 489.0 L259.0 489.4 L265.0 489.5 L271.1 489.4 L277.2 489.0 L283.4 488.5 L289.5 487.9 L295.6 487.2 L301.8 486.5 L307.9 485.8 L314.0 485.2 L319.8 484.8 L325.5 484.4 L331.2 483.9 L337.0 483.5 L342.8 483.1 L348.5 482.7 L354.2 482.3 L360.0 482.0 L365.7 481.7 L371.4 481.3 L377.1 481.0 L382.9 480.7 L388.6 480.5 L394.3 480.3 L400.0 480.2 L406.0 480.5 L412.0 480.8 L418.0 480.8 L424.0 480.8 L430.0 480.8 L436.0 480.8 L442.0 480.8 L448.0 480.8 L454.0 480.8 L460.0 480.8 L466.2 480.6 L472.5 480.3 L478.8 479.8 L485.0 479.2 L491.2 478.7 L497.5 478.2 L503.8 477.9 L510.0 477.8 L516.0 477.8 L522.0 477.8 L528.0 477.8 L534.0 477.8 L540.0 477.8 L546.0 477.8 L552.0 477.8 L558.0 477.8 L564.0 477.8 L570.0 477.8 L576.0 477.8 L582.2 477.6 L588.4 477.4 L594.6 477.1 L600.8 476.7 L607.0 476.5 L613.1 476.3 L619.2 476.2 L625.2 476.0 L631.3 475.9 L637.4 475.8 L643.5 475.6 L649.6 475.5 L655.7 475.4 L661.8 475.4 L667.8 475.3 L673.9 475.3 L680.0 475.2 L686.2 475.2 L692.5 475.2 L698.8 475.2 L705.0 475.2 L711.0 475.2 L717.0 475.2 L723.0 475.2 L729.0 475.1 L735.0 475.1 L741.0 475.0 L747.0 475.0 L753.0 475.0 L758.9 475.1 L764.8 475.3 L770.6 475.5 L776.5 475.9 L782.4 476.2 L788.2 476.5 L794.1 476.8 L800.0 477.0 L806.4 477.1 L812.8 477.3 L819.2 477.4 L825.6 477.5 L832.0 477.5 L838.0 477.1 L844.0 476.3 L850.0 475.8 L856.2 475.5 L862.5 475.2 L868.8 475.0 L875.0 474.9 L881.2 474.7 L887.5 474.6 L893.8 474.5 L900.0 474.5 L906.1 474.6 L912.2 474.7 L918.4 475.0 L924.5 475.2 L930.6 475.6 L936.8 475.9 L942.9 476.2 L949.0 476.5 L950.0 476.5 L950.0 696.0 L70.0 696.0Z" fill="rgb(255,255,0)"/>
<path d="M71.0 495.0 L76.8 495.6 L82.6 496.3 L88.4 496.9 L94.2 497.6 L100.0 498.2 L106.2 499.0 L112.4 499.8 L118.5 500.6 L124.7 501.5 L130.9 502.3 L137.1 503.2 L143.3 504.0 L149.5 504.8 L155.6 505.6 L161.8 506.3 L168.0 507.0 L174.1 507.6 L180.2 508.3 L186.2 508.9 L192.3 509.6 L198.4 510.2 L204.5 510.8 L210.6 511.4 L216.7 511.9 L222.8 512.3 L228.8 512.7 L234.9 513.0 L241.0 513.2 L247.1 513.4 L253.2 513.6 L259.2 513.7 L265.3 513.9 L271.4 514.0 L277.5 514.1 L283.6 514.2 L289.7 514.3 L295.8 514.4 L301.8 514.5 L307.9 514.5 L314.0 514.5 L320.1 514.5 L326.2 514.3 L332.2 514.1 L338.3 513.9 L344.4 513.6 L350.5 513.2 L356.6 512.8 L362.7 512.4 L368.8 512.0 L374.8 511.6 L380.9 511.2 L387.0 510.8 L393.1 510.3 L399.2 509.9 L405.2 509.5 L411.3 509.0 L417.4 508.5 L423.5 508.0 L429.6 507.4 L435.7 506.9 L441.8 506.3 L447.8 505.7 L453.9 505.1 L460.0 504.5 L465.7 503.8 L471.4 503.0 L477.1 502.1 L482.9 501.2 L488.6 500.4 L494.3 499.8 L500.0 499.5 L505.5 499.4 L511.0 499.2 L516.5 499.1 L522.0 499.1 L527.5 499.0 L533.0 499.0 L539.1 499.1 L545.3 499.2 L551.4 499.4 L557.6 499.6 L563.7 499.8 L569.9 499.9 L576.0 500.0 L582.2 500.0 L588.4 499.9 L594.6 499.8 L600.8 499.6 L607.0 499.5 L613.1 499.3 L619.3 499.1 L625.4 498.9 L631.6 498.6 L637.7 498.4 L643.9 498.3 L650.0 498.2 L656.0 498.4 L662.0 498.8 L668.0 499.4 L674.0 500.1 L680.0 500.8 L686.7 501.7 L693.3 502.8 L700.0 503.2 L706.7 502.5 L713.3 500.9 L720.0 499.5 L725.5 498.6 L731.0 497.6 L736.5 496.6 L742.0 495.8 L747.5 495.2 L753.0 495.0 L759.2 495.1 L765.3 495.3 L771.5 495.6 L777.7 496.1 L783.8 496.5 L790.0 497.0 L796.7 497.7 L803.3 498.6 L810.0 499.5 L816.0 500.2 L822.0 500.9 L828.0 501.7 L834.0 502.4 L840.0 503.2 L845.6 504.1 L851.2 505.1 L856.8 506.2 L862.4 507.2 L868.0 508.2 L875.5 509.5 L860.0 511.5 L830.0 514.5 L800.0 515.8 L768.0 517.0 L753.0 517.0 L720.0 515.8 L700.0 514.5 L670.0 519.5 L640.0 524.5 L607.0 528.2 L576.0 532.0 L533.0 534.5 L500.0 536.5 L460.0 539.5 L387.0 543.2 L320.0 545.8 L314.0 547.0 L289.0 552.5 L264.0 559.5 L239.0 568.0 L219.0 577.0 L234.0 581.8 L240.7 582.7 L247.3 583.6 L254.0 584.2 L259.8 584.6 L265.7 584.9 L271.5 585.2 L277.3 585.5 L283.2 585.7 L289.0 586.0 L295.2 586.4 L301.5 586.9 L307.8 587.3 L314.0 587.5 L320.1 587.5 L326.2 587.4 L332.2 587.4 L338.3 587.3 L344.4 587.2 L350.5 587.0 L356.6 586.9 L362.7 586.7 L368.8 586.6 L374.8 586.4 L380.9 586.2 L387.0 586.0 L393.1 585.8 L399.3 585.5 L405.4 585.1 L411.6 584.8 L417.7 584.4 L423.9 583.9 L430.0 583.5 L436.0 583.0 L442.0 582.4 L448.0 581.9 L454.0 581.3 L460.0 581.0 L466.1 580.8 L472.2 580.6 L478.2 580.4 L484.3 580.3 L490.4 580.2 L496.5 580.0 L502.6 579.9 L508.7 579.8 L514.8 579.7 L520.8 579.6 L526.9 579.4 L533.0 579.2 L539.1 579.0 L545.3 578.8 L551.4 578.5 L557.6 578.2 L563.7 578.0 L569.9 577.7 L576.0 577.5 L582.2 577.3 L588.4 577.2 L594.6 577.0 L600.8 576.9 L607.0 576.8 L613.1 576.6 L619.2 576.5 L625.2 576.4 L631.3 576.3 L637.4 576.1 L643.5 576.0 L649.6 575.9 L655.7 575.8 L661.8 575.7 L667.8 575.6 L673.9 575.6 L680.0 575.5 L686.1 575.4 L692.2 575.4 L698.2 575.3 L704.3 575.3 L710.4 575.2 L716.5 575.2 L722.6 575.1 L728.7 575.1 L734.8 575.0 L740.8 575.0 L746.9 575.0 L753.0 575.0 L759.1 575.0 L765.2 575.0 L771.2 575.1 L777.3 575.1 L783.4 575.2 L789.5 575.2 L795.5 575.3 L801.6 575.3 L807.7 575.4 L813.8 575.4 L819.8 575.5 L825.9 575.5 L832.0 575.5 L838.0 575.2 L844.0 574.6 L850.0 574.2 L856.2 574.2 L862.5 574.2 L868.8 574.2 L875.0 574.2 L881.2 574.2 L887.5 574.2 L893.8 574.2 L900.0 574.2 L906.1 574.3 L912.2 574.3 L918.4 574.4 L924.5 574.5 L930.6 574.7 L936.8 574.8 L942.9 574.9 L949.0 575.0 L950.0 575.0 L950.0 696.0 L70.0 696.0 L70.0 495.0Z" fill="rgb(255,225,0)"/>
<path d="M915.5 509.0 L949.0 501.5 L949.0 515.8Z" fill="rgb(255,225,0)"/>
<path d="M188.2 535.0 L199.0 532.8 L216.5 531.5 L239.0 533.2 L257.8 535.0 L239.0 537.5 L224.0 540.8 L215.2 543.5 L204.0 542.0 L196.5 539.5Z" fill="rgb(255,195,0)"/>
<path d="M89.0 556.2 L100.0 554.8 L117.8 553.8 L130.0 554.8 L140.8 556.2 L128.0 558.5 L115.2 560.0 L100.0 558.8Z" fill="rgb(255,195,0)"/>
<path d="M448.2 556.2 L455.0 553.8 L462.5 552.8 L475.0 554.5 L500.0 556.2 L482.5 558.2 L470.0 560.0 L463.8 561.0 L456.2 559.5Z" fill="#fff"/>
<path d="M669.8 556.2 L681.0 554.5 L688.5 552.0 L693.5 547.0 L696.0 538.2 L698.5 534.5 L706.0 532.5 L726.0 531.0 L741.0 530.8 L754.0 531.5 L768.0 532.5 L783.0 534.0 L798.0 536.5 L803.0 538.0 L809.2 537.0 L830.5 535.0 L855.5 533.2 L880.5 530.8 L899.2 528.8 L918.0 531.2 L949.0 535.2 L949.0 562.8 L918.0 561.5 L899.2 560.8 L880.5 561.2 L843.0 562.8 L809.2 562.2 L803.0 563.2 L793.0 562.2 L776.0 563.2 L754.0 563.5 L741.0 562.8 L726.0 561.2 L711.0 558.8 L696.0 557.0 L681.0 556.5 L669.8 556.2Z" fill="#fff"/>
<path d="M70.0 608.5 L71.0 608.5 L76.8 608.6 L82.6 608.6 L88.4 608.7 L94.2 608.7 L100.0 608.8 L106.2 608.8 L112.3 608.8 L118.5 608.8 L123.9 608.5 L129.2 608.0 L134.6 607.4 L140.0 606.8 L145.6 606.1 L151.2 605.3 L156.8 604.6 L162.4 604.0 L168.0 603.8 L174.1 603.7 L180.2 603.7 L186.2 603.7 L192.3 603.6 L198.4 603.6 L204.5 603.6 L210.6 603.6 L216.7 603.6 L222.8 603.6 L228.8 603.6 L234.9 603.5 L241.0 603.5 L247.5 603.4 L254.0 603.3 L260.5 603.1 L267.0 602.9 L273.5 602.7 L280.0 602.5 L285.7 602.3 L291.3 602.1 L297.0 601.8 L302.7 601.6 L308.3 601.3 L314.0 601.0 L320.1 600.7 L326.2 600.3 L332.2 600.0 L338.3 599.6 L344.4 599.2 L350.5 598.7 L356.6 598.3 L362.7 597.9 L368.8 597.5 L374.8 597.1 L380.9 596.6 L387.0 596.2 L393.1 595.9 L399.3 595.5 L405.4 595.1 L411.6 594.7 L417.7 594.3 L423.9 593.9 L430.0 593.5 L436.0 593.0 L442.0 592.5 L448.0 592.0 L454.0 591.5 L460.0 591.2 L465.7 591.1 L471.4 591.0 L477.1 590.9 L482.9 590.8 L488.6 590.7 L494.3 590.6 L500.0 590.5 L505.5 590.4 L511.0 590.3 L516.5 590.1 L522.0 590.0 L527.5 589.9 L533.0 589.8 L539.1 589.6 L545.3 589.5 L551.4 589.4 L557.6 589.3 L563.7 589.2 L569.9 589.1 L576.0 589.0 L582.2 588.8 L588.4 588.6 L594.6 588.4 L600.8 588.2 L607.0 588.0 L613.1 587.9 L619.3 587.7 L625.4 587.6 L631.6 587.4 L637.7 587.3 L643.9 587.3 L650.0 587.2 L656.0 587.3 L662.0 587.4 L668.0 587.6 L674.0 587.8 L680.0 588.0 L686.2 588.3 L692.5 588.7 L698.8 589.1 L705.0 589.2 L711.0 589.2 L717.0 589.0 L723.0 588.8 L729.0 588.4 L735.0 588.1 L741.0 587.8 L747.0 587.5 L753.0 587.2 L758.9 587.1 L764.8 586.8 L770.6 586.6 L776.5 586.4 L782.4 586.3 L788.2 586.1 L794.1 586.0 L800.0 586.0 L806.4 586.1 L812.8 586.3 L819.2 586.5 L825.6 586.7 L832.0 586.8 L838.0 586.6 L844.0 586.4 L850.0 586.2 L856.2 586.3 L862.5 586.4 L868.8 586.6 L875.0 586.9 L881.2 587.1 L887.5 587.3 L893.8 587.4 L900.0 587.5 L906.1 587.5 L912.2 587.3 L918.4 587.2 L924.5 586.9 L930.6 586.7 L936.8 586.4 L942.9 586.2 L949.0 586.0 L950.0 586.0 L950.0 696.0 L70.0 696.0Z" fill="rgb(255,195,0)"/>
<path d="M70.0 619.2 L71.0 619.2 L77.1 619.3 L83.1 619.4 L89.2 619.5 L95.2 619.6 L101.3 619.7 L107.4 619.8 L113.4 619.9 L119.5 620.0 L125.6 620.1 L131.6 620.2 L137.7 620.3 L143.8 620.4 L149.8 620.4 L155.9 620.5 L161.9 620.5 L168.0 620.5 L174.1 620.5 L180.2 620.5 L186.2 620.5 L192.3 620.4 L198.4 620.4 L204.5 620.4 L210.6 620.3 L216.7 620.3 L222.8 620.2 L228.8 620.1 L234.9 620.1 L241.0 620.0 L246.8 619.9 L252.7 619.7 L258.5 619.5 L264.4 619.2 L270.2 618.9 L276.1 618.5 L281.9 618.1 L287.8 617.7 L293.6 617.3 L299.5 616.8 L305.3 616.4 L311.2 615.9 L317.0 615.5 L322.8 615.0 L328.7 614.5 L334.5 613.9 L340.3 613.2 L346.2 612.6 L352.0 611.9 L357.8 611.2 L363.7 610.6 L369.5 610.0 L375.3 609.4 L381.2 608.9 L387.0 608.5 L393.1 608.1 L399.2 607.7 L405.2 607.3 L411.3 607.0 L417.4 606.6 L423.5 606.3 L429.6 606.0 L435.7 605.7 L441.8 605.5 L447.8 605.3 L453.9 605.1 L460.0 605.0 L466.1 604.9 L472.2 604.8 L478.2 604.7 L484.3 604.6 L490.4 604.5 L496.5 604.5 L502.6 604.4 L508.7 604.4 L514.8 604.3 L520.8 604.3 L526.9 604.3 L533.0 604.2 L539.1 604.3 L545.3 604.4 L551.4 604.5 L557.6 604.7 L563.7 604.9 L569.9 605.0 L576.0 605.0 L582.2 604.8 L588.4 604.4 L594.6 603.9 L600.8 603.4 L607.0 603.0 L613.1 602.8 L619.2 602.5 L625.2 602.3 L631.3 602.1 L637.4 601.9 L643.5 601.7 L649.6 601.6 L655.7 601.4 L661.8 601.3 L667.8 601.2 L673.9 601.1 L680.0 601.0 L686.1 600.9 L692.2 600.9 L698.2 600.8 L704.3 600.8 L710.4 600.7 L716.5 600.6 L722.6 600.6 L728.7 600.6 L734.8 600.5 L740.8 600.5 L746.9 600.5 L753.0 600.5 L759.1 600.5 L765.2 600.6 L771.2 600.6 L777.3 600.7 L783.4 600.8 L789.5 600.9 L795.5 601.1 L801.6 601.2 L807.7 601.3 L813.8 601.4 L819.8 601.4 L825.9 601.5 L832.0 601.5 L838.0 601.3 L844.0 600.9 L850.0 600.5 L856.2 600.3 L862.5 600.0 L868.8 599.8 L875.0 599.6 L881.2 599.5 L887.5 599.4 L893.8 599.3 L900.0 599.2 L906.1 599.2 L912.2 599.2 L918.4 599.2 L924.5 599.2 L930.6 599.2 L936.8 599.2 L942.9 599.2 L949.0 599.2 L950.0 599.2 L950.0 696.0 L70.0 696.0Z" fill="rgb(255,165,0)"/>
<path d="M70.0 629.8 L71.0 629.8 L77.1 630.0 L83.2 630.2 L89.4 630.4 L95.5 630.7 L101.6 630.9 L107.8 631.1 L113.9 631.2 L120.0 631.2 L126.0 631.2 L132.0 630.9 L138.0 630.6 L144.0 630.2 L150.0 629.9 L156.0 629.6 L162.0 629.3 L168.0 629.2 L174.4 629.3 L180.8 629.4 L187.2 629.5 L193.6 629.6 L200.0 629.8 L205.7 629.9 L211.3 630.0 L217.0 630.0 L223.0 629.9 L229.0 629.5 L235.0 629.1 L241.0 628.8 L247.1 628.4 L253.2 628.1 L259.2 627.8 L265.3 627.6 L271.4 627.3 L277.5 627.0 L283.6 626.7 L289.7 626.4 L295.8 626.0 L301.8 625.7 L307.9 625.4 L314.0 625.0 L320.1 624.6 L326.2 624.2 L332.2 623.7 L338.3 623.2 L344.4 622.7 L350.5 622.2 L356.6 621.6 L362.7 621.1 L368.8 620.6 L374.8 620.1 L380.9 619.7 L387.0 619.2 L393.1 618.8 L399.3 618.4 L405.4 618.0 L411.6 617.6 L417.7 617.2 L423.9 617.0 L430.0 616.8 L436.0 616.6 L442.0 616.5 L448.0 616.4 L454.0 616.3 L460.0 616.2 L465.7 616.3 L471.4 616.3 L477.1 616.4 L482.9 616.5 L488.6 616.6 L494.3 616.7 L500.0 616.8 L505.5 616.8 L511.0 616.9 L516.5 617.0 L522.0 617.1 L527.5 617.2 L533.0 617.2 L539.1 617.3 L545.3 617.4 L551.4 617.4 L557.6 617.4 L563.7 617.5 L569.9 617.5 L576.0 617.5 L582.2 617.4 L588.4 617.3 L594.6 617.1 L600.8 616.9 L607.0 616.8 L613.1 616.7 L619.2 616.6 L625.2 616.5 L631.3 616.4 L637.4 616.3 L643.5 616.2 L649.6 616.2 L655.7 616.1 L661.8 616.1 L667.8 616.0 L673.9 616.0 L680.0 616.0 L686.4 616.0 L692.8 616.0 L699.1 616.0 L705.5 616.0 L711.4 616.0 L717.4 616.0 L723.3 616.0 L729.2 616.0 L735.2 616.0 L741.1 616.0 L747.1 616.0 L753.0 616.0 L759.2 616.1 L765.3 616.5 L771.5 617.0 L777.7 617.5 L783.8 618.1 L790.0 618.5 L796.5 619.0 L803.0 619.2 L808.8 619.0 L814.6 618.4 L820.4 617.6 L826.2 617.0 L832.0 616.8 L838.0 616.8 L844.0 616.8 L850.0 616.8 L856.2 616.6 L862.5 616.3 L868.8 615.9 L875.0 615.4 L881.2 614.9 L887.5 614.4 L893.8 614.0 L900.0 613.8 L906.1 613.6 L912.2 613.5 L918.4 613.4 L924.5 613.3 L930.6 613.2 L936.8 613.2 L942.9 613.1 L949.0 613.0 L950.0 613.0 L950.0 696.0 L70.0 696.0Z" fill="rgb(255,140,0)"/>
<path d="M104.0 668.8 L109.0 666.2 L114.0 664.0 L120.2 661.9 L126.5 660.2 L132.8 659.2 L139.0 658.4 L145.2 657.9 L151.5 657.5 L157.8 657.2 L164.0 656.8 L169.0 652.8 L172.8 649.6 L179.2 648.6 L185.6 648.1 L192.0 647.8 L198.4 647.3 L204.8 647.0 L211.2 646.7 L217.6 646.3 L224.0 646.0 L229.7 645.7 L235.3 645.4 L241.0 645.0 L247.1 644.6 L253.2 644.2 L259.2 643.8 L265.3 643.5 L271.4 643.0 L277.5 642.6 L283.6 642.1 L289.7 641.5 L295.8 640.8 L301.8 640.0 L307.9 639.1 L314.0 638.0 L320.0 635.5 L326.1 634.6 L332.2 633.9 L338.3 633.3 L344.4 632.7 L350.5 632.3 L356.5 632.0 L362.6 631.6 L368.7 631.4 L374.8 631.1 L380.9 630.8 L387.0 630.5 L393.1 630.2 L399.2 629.8 L405.2 629.5 L411.3 629.1 L417.4 628.8 L423.5 628.5 L429.6 628.2 L435.7 628.0 L441.8 627.8 L447.8 627.6 L453.9 627.5 L460.0 627.5 L466.1 627.5 L472.2 627.5 L478.2 627.5 L484.3 627.6 L490.4 627.6 L496.5 627.6 L502.6 627.7 L508.7 627.7 L514.8 627.8 L520.8 627.9 L526.9 627.9 L533.0 628.0 L539.1 628.1 L545.3 628.3 L551.4 628.6 L557.6 628.9 L563.7 629.3 L569.9 629.6 L576.0 630.0 L582.2 630.5 L588.4 631.1 L594.6 631.8 L600.8 632.3 L607.0 632.5 L613.1 632.5 L619.2 632.5 L625.2 632.4 L631.3 632.4 L637.4 632.3 L643.5 632.2 L649.6 632.1 L655.7 632.1 L661.8 632.0 L667.8 631.9 L673.9 631.8 L680.0 631.8 L686.1 631.7 L692.2 631.6 L698.2 631.5 L704.3 631.4 L710.4 631.4 L716.5 631.3 L722.6 631.2 L728.7 631.1 L734.8 631.1 L740.8 631.0 L746.9 631.0 L753.0 631.0 L760.5 631.1 L768.0 631.2 L773.9 631.3 L779.7 631.4 L785.6 631.4 L791.4 631.5 L797.3 631.5 L803.1 631.6 L809.0 631.6 L814.9 631.6 L820.7 631.7 L826.6 631.7 L832.4 631.7 L838.3 631.7 L844.1 631.7 L850.0 631.8 L856.2 631.7 L862.5 631.7 L868.8 631.6 L875.0 631.5 L881.2 631.3 L887.5 631.2 L893.8 631.1 L900.0 631.0 L906.1 630.9 L912.2 630.9 L918.4 630.8 L924.5 630.7 L930.6 630.7 L936.8 630.6 L942.9 630.6 L949.0 630.5 L950.0 630.5 L950.0 696.0 L104.0 696.0Z" fill="rgb(255,110,0)"/>
<path d="M71.0 642.8 L95.0 644.6 L120.0 647.0 L145.0 649.0 L159.6 650.2 L159.6 651.0 L126.5 654.6 L116.5 655.9 L106.5 659.6 L95.0 661.5 L71.0 662.0Z" fill="rgb(255,110,0)"/>
<path d="M146.0 668.8 L151.4 668.0 L156.9 667.3 L162.3 666.5 L167.8 665.7 L173.1 664.8 L178.4 663.8 L183.7 662.8 L189.0 661.8 L195.2 660.5 L201.5 659.2 L207.8 657.9 L214.0 656.8 L220.2 655.7 L226.5 654.8 L232.8 653.9 L239.0 653.0 L245.2 652.1 L251.5 651.3 L257.8 650.5 L264.0 649.8 L270.2 649.1 L276.5 648.4 L282.8 647.8 L289.0 647.2 L295.2 646.7 L301.5 646.1 L307.8 645.5 L314.0 645.0 L320.1 644.6 L326.2 644.1 L332.2 643.7 L338.3 643.3 L344.4 643.0 L350.5 642.6 L356.6 642.3 L362.7 641.9 L368.8 641.6 L374.8 641.2 L380.9 640.9 L387.0 640.5 L392.5 640.1 L398.0 639.7 L403.5 639.3 L409.0 639.0 L414.5 638.7 L420.0 638.5 L425.9 638.4 L431.7 638.3 L437.6 638.2 L443.4 638.1 L449.3 638.0 L455.1 638.0 L461.0 638.0 L467.5 638.0 L474.0 638.0 L480.5 638.0 L487.0 638.0 L493.5 638.0 L500.0 638.0 L506.7 638.4 L513.3 639.2 L520.0 640.0 L526.0 640.7 L532.0 641.4 L538.0 642.1 L544.0 642.8 L550.0 643.5 L556.5 644.2 L563.0 644.8 L569.5 645.4 L576.0 646.0 L583.0 646.7 L590.0 647.5 L595.7 648.2 L601.3 648.8 L607.0 649.2 L613.1 649.4 L619.3 649.6 L625.4 649.7 L631.6 649.9 L637.7 649.9 L643.9 650.0 L650.0 650.0 L656.0 650.0 L662.0 649.8 L668.0 649.6 L674.0 649.4 L680.0 649.2 L685.7 649.0 L691.4 648.8 L697.1 648.5 L702.9 648.2 L708.6 647.9 L714.3 647.7 L720.0 647.5 L725.5 647.3 L731.0 647.2 L736.5 647.0 L742.0 646.9 L747.5 646.8 L753.0 646.8 L759.2 646.8 L765.3 647.1 L771.5 647.4 L777.7 647.8 L783.8 648.1 L790.0 648.5 L796.5 649.0 L803.0 649.2 L808.8 649.2 L814.6 649.1 L820.4 648.9 L826.2 648.8 L832.0 648.8 L838.0 648.8 L844.0 648.8 L850.0 648.8 L856.2 648.8 L862.5 648.8 L868.8 648.9 L875.0 649.1 L881.2 649.2 L887.5 649.4 L893.8 649.6 L900.0 649.8 L906.1 650.0 L912.2 650.2 L918.4 650.5 L924.5 650.9 L930.6 651.2 L936.8 651.6 L942.9 651.9 L949.0 652.2 L950.0 652.2 L950.0 696.0 L146.0 696.0Z" fill="rgb(255,85,0)"/>
<path d="M205.0 668.8 L208.9 668.2 L212.8 667.7 L216.7 667.2 L220.6 666.6 L224.4 666.1 L228.3 665.6 L232.2 665.1 L236.1 664.5 L240.0 664.0 L244.0 663.5 L248.0 662.9 L252.0 662.4 L256.0 661.8 L260.0 661.3 L264.0 660.7 L268.0 660.2 L272.0 659.6 L276.0 659.1 L280.0 658.5 L284.0 657.9 L288.0 657.3 L292.0 656.7 L296.0 656.1 L300.0 655.5 L304.0 654.9 L308.0 654.3 L312.0 653.8 L316.0 653.4 L320.0 653.0 L323.9 652.7 L327.9 652.4 L331.8 652.1 L335.8 651.8 L339.7 651.6 L343.6 651.3 L347.6 651.1 L351.5 650.9 L355.5 650.7 L359.4 650.5 L363.4 650.3 L367.3 650.1 L371.2 649.9 L375.2 649.8 L379.1 649.6 L383.1 649.4 L387.0 649.2 L391.1 649.1 L395.1 648.9 L399.2 648.7 L403.2 648.5 L407.3 648.3 L411.3 648.1 L415.4 648.0 L419.4 647.8 L423.5 647.6 L427.6 647.5 L431.6 647.3 L435.7 647.2 L439.7 647.0 L443.8 646.9 L447.8 646.9 L451.9 646.8 L455.9 646.8 L460.0 646.8 L464.1 646.8 L468.1 646.8 L472.2 646.9 L476.2 647.0 L480.3 647.2 L484.3 647.3 L488.4 647.5 L492.4 647.7 L496.5 648.0 L500.6 648.2 L504.6 648.5 L508.7 648.7 L512.7 649.0 L516.8 649.3 L520.8 649.6 L524.9 649.9 L528.9 650.2 L533.0 650.5 L536.9 650.8 L540.8 651.2 L544.7 651.6 L548.6 652.0 L552.5 652.5 L556.5 653.0 L560.4 653.5 L564.3 654.0 L568.2 654.5 L572.1 655.0 L576.0 655.5 L579.9 656.0 L583.8 656.4 L587.6 656.9 L591.5 657.3 L595.4 657.8 L599.2 658.3 L603.1 658.7 L607.0 659.2 L611.1 659.8 L615.2 660.4 L619.4 661.0 L623.5 661.6 L627.6 662.3 L631.8 662.9 L635.9 663.6 L640.0 664.2 L644.2 665.0 L648.3 665.7 L652.5 666.5 L656.7 667.2 L660.8 668.0 L665.0 668.8Z" fill="rgb(255,50,0)"/>
<path d="M758.0 668.8 L768.0 667.0 L778.0 668.8Z" fill="rgb(255,50,0)"/>
<path d="M258.5 668.8 L263.0 668.4 L267.5 668.0 L272.0 667.6 L276.5 667.2 L280.7 666.8 L284.8 666.4 L289.0 666.0 L293.2 665.6 L297.3 665.1 L301.5 664.6 L305.7 664.2 L309.8 663.8 L314.0 663.5 L317.8 663.3 L321.7 663.1 L325.5 663.0 L329.3 662.8 L333.2 662.7 L337.0 662.6 L340.8 662.5 L344.7 662.4 L348.5 662.3 L352.3 662.1 L356.2 661.9 L360.0 661.8 L363.9 661.5 L367.7 661.2 L371.6 660.8 L375.4 660.4 L379.3 659.9 L383.1 659.6 L387.0 659.2 L391.1 658.9 L395.2 658.7 L399.4 658.4 L403.5 658.1 L407.6 657.8 L411.8 657.6 L415.9 657.4 L420.0 657.2 L424.0 657.1 L428.0 657.0 L432.0 656.8 L436.0 656.7 L440.0 656.6 L444.0 656.5 L448.0 656.4 L452.0 656.3 L456.0 656.3 L460.0 656.2 L464.0 656.3 L468.0 656.3 L472.0 656.4 L476.0 656.4 L480.0 656.5 L484.0 656.7 L488.0 656.8 L492.0 656.9 L496.0 657.1 L500.0 657.2 L504.0 657.5 L508.0 657.9 L512.0 658.3 L516.0 658.8 L520.0 659.2 L523.8 659.7 L527.5 660.1 L531.2 660.5 L535.0 661.0 L538.8 661.5 L542.5 662.0 L546.2 662.5 L550.0 663.0 L554.3 663.6 L558.7 664.2 L563.0 664.8 L567.3 665.6 L571.7 666.4 L576.0 667.5 L579.0 668.8Z" fill="rgb(255,15,0)"/>
<path d="M388.0 668.8 L392.0 668.4 L396.0 668.1 L400.0 667.7 L404.0 667.4 L408.0 667.1 L412.0 666.8 L416.0 666.5 L420.0 666.3 L424.0 666.1 L428.0 665.9 L432.0 665.7 L436.0 665.6 L440.0 665.4 L444.0 665.3 L448.0 665.2 L452.0 665.1 L456.0 665.0 L460.0 665.0 L463.8 665.0 L467.5 665.1 L471.2 665.1 L475.0 665.2 L478.8 665.3 L482.5 665.5 L486.2 665.6 L490.0 665.8 L494.0 666.1 L498.0 666.5 L502.0 667.0 L506.0 667.6 L510.0 668.2 L514.0 668.8Z" fill="rgb(255,0,60)"/>
<rect x="70" y="668.75" width="880" height="27.25" fill="rgb(160,82,45)"/>
</g>
<g clip-path="url(#pc)">
<line x1="168.0" y1="52.2" x2="168.0" y2="695" stroke="#c2c2c2" stroke-width="1.1" stroke-dasharray="2.6 5.6"/>
<line x1="314.4" y1="52.2" x2="314.4" y2="695" stroke="#c2c2c2" stroke-width="1.1" stroke-dasharray="2.6 5.6"/>
<line x1="460.8" y1="52.2" x2="460.8" y2="695" stroke="#c2c2c2" stroke-width="1.1" stroke-dasharray="2.6 5.6"/>
<line x1="607.2" y1="52.2" x2="607.2" y2="695" stroke="#c2c2c2" stroke-width="1.1" stroke-dasharray="2.6 5.6"/>
<line x1="753.6" y1="52.2" x2="753.6" y2="695" stroke="#c2c2c2" stroke-width="1.1" stroke-dasharray="2.6 5.6"/>
<line x1="900.0" y1="52.2" x2="900.0" y2="695" stroke="#c2c2c2" stroke-width="1.1" stroke-dasharray="2.6 5.6"/>
</g>
<line x1="59.9" y1="124.00" x2="949" y2="124.00" stroke="#222" stroke-width="1.6" stroke-dasharray="1.6 6.78"/>
<line x1="59.9" y1="196.64" x2="949" y2="196.64" stroke="#222" stroke-width="1.6" stroke-dasharray="1.6 6.78"/>
<line x1="59.9" y1="258.05" x2="949" y2="258.05" stroke="#222" stroke-width="1.6" stroke-dasharray="1.6 6.78"/>
<line x1="59.9" y1="311.25" x2="949" y2="311.25" stroke="#222" stroke-width="1.6" stroke-dasharray="1.6 6.78"/>
<line x1="59.9" y1="358.17" x2="949" y2="358.17" stroke="#222" stroke-width="1.6" stroke-dasharray="1.6 6.78"/>
<line x1="59.9" y1="400.15" x2="949" y2="400.15" stroke="#222" stroke-width="1.6" stroke-dasharray="1.6 6.78"/>
<line x1="59.9" y1="438.12" x2="949" y2="438.12" stroke="#222" stroke-width="1.6" stroke-dasharray="1.6 6.78"/>
<line x1="59.9" y1="472.79" x2="949" y2="472.79" stroke="#222" stroke-width="1.6" stroke-dasharray="1.6 6.78"/>
<line x1="59.9" y1="504.68" x2="949" y2="504.68" stroke="#222" stroke-width="1.6" stroke-dasharray="1.6 6.78"/>
<line x1="59.9" y1="534.20" x2="949" y2="534.20" stroke="#222" stroke-width="1.6" stroke-dasharray="1.6 6.78"/>
<line x1="59.9" y1="561.69" x2="949" y2="561.69" stroke="#222" stroke-width="1.6" stroke-dasharray="1.6 6.78"/>
<line x1="59.9" y1="587.40" x2="949" y2="587.40" stroke="#222" stroke-width="1.6" stroke-dasharray="1.6 6.78"/>
<line x1="59.9" y1="611.55" x2="949" y2="611.55" stroke="#222" stroke-width="1.6" stroke-dasharray="1.6 6.78"/>
<line x1="59.9" y1="634.32" x2="949" y2="634.32" stroke="#222" stroke-width="1.6" stroke-dasharray="1.6 6.78"/>
<line x1="59.9" y1="655.86" x2="949" y2="655.86" stroke="#222" stroke-width="1.6" stroke-dasharray="1.6 6.78"/>
<line x1="59.9" y1="676.30" x2="949" y2="676.30" stroke="#222" stroke-width="1.6" stroke-dasharray="1.6 6.78"/>
<g clip-path="url(#pc)" fill="none" stroke-linejoin="round">
<path d="M110.2 45.5 L114.0 46.5 L117.8 47.6 L121.5 48.2 L125.2 48.5 L129.0 48.8 L132.8 48.9 L136.5 49.0 L140.2 48.9 L144.0 48.8 L147.8 48.5 L151.5 48.2 L155.9 47.8 L160.2 47.1 L164.6 46.3 L169.0 45.5" stroke="#000" stroke-width="1.35" stroke-dasharray="3.6 2"/>
<path d="M71.0 83.8 L77.1 83.9 L83.2 84.1 L89.4 84.3 L95.5 84.5 L101.6 84.7 L107.8 84.9 L113.9 85.0 L120.0 85.2 L126.0 85.5 L132.0 85.7 L138.0 86.0 L144.0 86.3 L150.0 86.6 L156.0 86.8 L162.0 86.9 L168.0 87.0 L174.1 87.0 L180.2 86.9 L186.2 86.8 L192.3 86.6 L198.4 86.4 L204.5 86.2 L210.6 85.9 L216.7 85.6 L222.8 85.4 L228.8 85.1 L234.9 84.8 L241.0 84.5 L247.1 84.2 L253.2 83.7 L259.2 83.2 L265.3 82.7 L271.4 82.1 L277.5 81.6 L283.6 81.0 L289.7 80.5 L295.8 80.1 L301.8 79.8 L307.9 79.6 L314.0 79.5 L320.5 79.6 L327.0 80.0 L333.5 80.5 L340.0 81.0 L346.2 81.7 L352.5 82.6 L358.8 83.4 L365.0 83.8 L370.5 83.7 L376.0 83.5 L381.5 83.3 L387.0 83.0 L392.5 82.7 L398.0 82.4 L403.5 82.0 L409.0 81.5 L414.5 81.0 L420.0 80.5 L425.7 79.9 L431.4 79.1 L437.1 78.2 L442.9 77.3 L448.6 76.5 L454.3 75.7 L460.0 75.0 L465.7 74.4 L471.4 73.9 L477.1 73.3 L482.9 72.8 L488.6 72.4 L494.3 72.0 L500.0 71.8 L505.5 71.5 L511.0 71.3 L516.5 71.2 L522.0 71.0 L527.5 70.9 L533.0 70.8 L539.1 70.6 L545.3 70.5 L551.4 70.4 L557.6 70.3 L563.7 70.2 L569.9 70.1 L576.0 70.0 L582.2 69.8 L588.4 69.6 L594.6 69.3 L600.8 69.0 L607.0 68.8 L613.1 68.5 L619.3 68.1 L625.4 67.8 L631.6 67.5 L637.7 67.1 L643.9 66.7 L650.0 66.2 L655.7 65.8 L661.4 65.2 L667.1 64.5 L672.9 63.8 L678.6 63.2 L684.3 62.5 L690.0 62.0 L690.5 61.9" stroke="#000" stroke-width="1.35" stroke-dasharray="3.6 2"/>
<path d="M721.5 60.5 L723.3 60.5 L730.0 60.5 L735.8 60.5 L741.5 60.4 L747.2 60.2 L753.0 60.0 L760.5 59.3 L768.0 58.0 L774.0 56.3 L780.0 54.5 L785.0 53.4 L790.0 52.5 L797.5 51.2 L805.0 50.5 L810.2 50.6 L815.5 50.8 L820.8 51.0 L826.0 51.2 L832.0 51.6 L838.0 52.0 L844.0 52.4 L850.0 52.5 L856.0 52.4 L862.0 52.1 L868.0 51.8 L874.0 51.5 L880.0 51.2 L886.7 51.0 L893.3 50.9 L900.0 50.8 L906.1 50.7 L912.2 50.7 L918.4 50.6 L924.5 50.6 L930.6 50.6 L936.8 50.6 L942.9 50.5 L949.0 50.5" stroke="#000" stroke-width="1.35" stroke-dasharray="3.6 2"/>
<path d="M71.0 114.0 L77.1 114.3 L83.2 114.5 L89.4 114.8 L95.5 115.0 L101.6 115.3 L107.8 115.5 L113.9 115.8 L120.0 116.0 L126.0 116.2 L132.0 116.4 L138.0 116.7 L144.0 116.9 L150.0 117.1 L156.0 117.3 L162.0 117.4 L168.0 117.5 L174.1 117.6 L180.2 117.6 L186.2 117.7 L192.3 117.8 L198.4 117.8 L204.5 117.9 L210.6 117.9 L216.7 117.9 L222.8 118.0 L228.8 118.0 L234.9 118.0 L241.0 118.0 L247.1 118.0 L253.2 117.9 L259.2 117.7 L265.3 117.5 L271.4 117.2 L277.5 117.0 L283.6 116.8 L289.7 116.5 L295.8 116.3 L301.8 116.1 L307.9 116.0 L314.0 116.0 L320.1 116.0 L326.2 116.1 L332.2 116.2 L338.3 116.4 L344.4 116.6 L348.1 116.7" stroke="#000" stroke-width="1.35" stroke-dasharray="3.6 2"/>
<path d="M378.9 117.4 L380.9 117.5 L387.0 117.5 L393.1 117.5 L399.2 117.4 L405.2 117.4 L411.3 117.3 L417.4 117.1 L423.5 117.0 L429.6 116.8 L435.7 116.6 L441.8 116.4 L447.8 116.2 L453.9 116.0 L460.0 115.8 L465.7 115.4 L471.4 115.0 L477.1 114.5 L482.9 113.9 L488.6 113.4 L494.3 112.9 L500.0 112.5 L505.5 112.2 L511.0 111.9 L516.5 111.6 L522.0 111.4 L527.5 111.2 L533.0 111.0 L539.1 110.8 L545.3 110.7 L551.4 110.6 L557.6 110.5 L563.7 110.3 L569.9 110.2 L576.0 110.0 L582.2 109.7 L588.4 109.2 L594.6 108.7 L600.8 108.3 L607.0 108.0 L613.1 107.9 L619.2 107.8 L625.2 107.7 L631.3 107.6 L637.4 107.5 L643.5 107.5 L649.6 107.4 L655.7 107.3 L661.8 107.3 L667.8 107.2 L673.9 107.1 L680.0 107.0 L686.0 106.8 L690.5 106.6" stroke="#000" stroke-width="1.35" stroke-dasharray="3.6 2"/>
<path d="M721.5 106.3 L722.3 106.3 L728.4 106.6 L734.6 106.9 L740.7 107.2 L746.9 107.4 L753.0 107.5 L759.2 107.4 L765.3 107.1 L771.5 106.6 L777.7 106.0 L783.8 105.3 L790.0 104.5 L795.0 103.6 L800.0 102.5 L807.5 101.3 L815.0 100.0 L820.5 98.6 L826.0 97.0 L832.0 95.2 L838.0 93.2 L844.0 91.4 L850.0 90.0 L856.7 89.0 L863.3 88.1 L870.0 87.5 L876.0 87.0 L882.0 86.6 L888.0 86.3 L894.0 86.0 L900.0 85.8 L906.1 85.5 L912.2 85.4 L918.4 85.2 L924.5 85.1 L930.6 84.9 L936.8 84.8 L942.9 84.6 L949.0 84.5" stroke="#000" stroke-width="1.35" stroke-dasharray="3.6 2"/>
<path d="M71.0 143.0 L77.1 143.2 L83.2 143.4 L89.4 143.6 L95.5 143.8 L101.6 144.0 L107.8 144.2 L113.9 144.3 L120.0 144.5 L126.0 144.6 L132.0 144.8 L138.0 144.9 L144.0 145.1 L150.0 145.2 L156.0 145.3 L162.0 145.4 L168.0 145.5 L174.1 145.6 L180.2 145.6 L186.2 145.7 L192.3 145.7 L198.4 145.7 L204.5 145.8 L210.6 145.8 L216.7 145.8 L222.8 145.9 L228.8 145.9 L234.9 145.9 L241.0 146.0 L247.1 146.1 L253.2 146.2 L259.2 146.3 L265.3 146.5 L271.4 146.7 L277.5 146.8 L283.6 147.0 L289.7 147.2 L295.8 147.3 L301.8 147.4 L307.9 147.5 L314.0 147.5 L320.1 147.5 L326.2 147.5 L332.2 147.5 L338.3 147.5 L344.4 147.5 L348.1 147.5" stroke="#000" stroke-width="1.35" stroke-dasharray="3.6 2"/>
<path d="M378.9 147.5 L380.9 147.5 L387.0 147.5 L393.1 147.5 L399.2 147.5 L405.2 147.4 L411.3 147.4 L417.4 147.3 L423.5 147.3 L429.6 147.2 L435.7 147.1 L441.8 147.0 L447.8 146.9 L453.9 146.8 L460.0 146.8 L466.1 146.6 L472.2 146.5 L478.2 146.4 L484.3 146.2 L490.4 146.0 L496.5 145.8 L502.6 145.6 L508.7 145.4 L514.8 145.1 L520.8 144.9 L526.9 144.7 L533.0 144.5 L539.1 144.3 L545.3 144.1 L551.4 143.8 L557.6 143.6 L563.7 143.4 L569.9 143.2 L576.0 143.0 L582.2 142.9 L588.4 142.7 L594.6 142.6 L600.8 142.5 L607.0 142.5 L613.1 142.5 L619.3 142.5 L625.4 142.5 L631.6 142.5 L637.7 142.5 L643.9 142.5 L650.0 142.5 L656.2 142.4 L662.5 142.1 L668.8 141.6 L675.0 141.1 L681.2 140.6 L687.5 140.1 L693.8 139.7 L700.0 139.5 L705.8 139.4 L711.7 139.3 L717.5 139.2 L723.3 139.1 L729.2 139.0 L735.0 139.0 L739.5 139.1" stroke="#000" stroke-width="1.35" stroke-dasharray="3.6 2"/>
<path d="M770.5 140.4 L773.3 140.5 L780.0 140.8 L786.7 141.2 L793.3 141.7 L800.0 142.0 L806.5 141.8 L813.0 141.2 L819.5 140.6 L826.0 140.0 L831.7 139.6 L837.3 139.1 L843.0 138.7 L848.7 138.3 L854.3 137.9 L860.0 137.5 L866.0 137.1 L872.0 136.8 L878.0 136.5 L884.0 136.0 L890.0 135.5 L895.0 134.8 L900.0 133.8 L907.5 130.2 L915.0 126.0 L922.5 122.9 L930.0 120.5 L936.3 119.2 L942.7 118.1 L949.0 117.0" stroke="#000" stroke-width="1.35" stroke-dasharray="3.6 2"/>
<path d="M71.0 173.8 L77.5 174.1 L84.0 174.5 L90.5 174.8 L97.0 175.2 L103.5 175.4 L110.0 175.5 L115.8 175.4 L121.6 175.1 L127.4 174.7 L133.2 174.3 L139.0 173.8 L144.8 173.2 L150.6 172.8 L156.4 172.4 L162.2 172.1 L168.0 172.0 L174.1 172.0 L180.2 172.0 L186.2 172.0 L192.3 172.0 L198.4 172.0 L204.5 172.0 L210.6 172.0 L216.7 172.0 L222.8 172.0 L228.8 172.0 L234.9 172.0 L241.0 172.0 L247.1 172.0 L253.2 172.1 L259.2 172.3 L265.3 172.4 L271.4 172.6 L277.5 172.9 L283.6 173.1 L289.7 173.3 L295.8 173.5 L301.8 173.7 L307.9 173.9 L314.0 174.0 L320.1 174.1 L326.2 174.2 L332.2 174.3 L338.3 174.3 L344.4 174.4 L348.6 174.4" stroke="#000" stroke-width="1.35" stroke-dasharray="3.6 2"/>
<path d="M379.4 174.7 L380.9 174.7 L387.0 174.8 L393.1 174.8 L399.2 174.8 L405.2 174.8 L411.3 174.9 L417.4 174.9 L423.5 174.9 L429.6 174.9 L435.7 175.0 L441.8 175.0 L447.8 175.0 L453.9 175.0 L460.0 175.0 L466.1 175.0 L472.2 175.0 L478.3 174.9 L484.4 174.9 L490.5 174.8 L496.6 174.7 L502.7 174.6 L508.8 174.5 L514.9 174.4 L521.1 174.3 L527.2 174.2 L533.3 174.1 L539.4 174.0 L545.5 174.0 L551.6 173.9 L557.7 173.8 L563.8 173.8 L569.9 173.8 L576.0 173.8 L582.2 173.8 L588.3 173.8 L593.0 173.8" stroke="#000" stroke-width="1.35" stroke-dasharray="3.6 2"/>
<path d="M624.0 173.6 L625.3 173.5 L631.5 173.3 L637.7 173.1 L643.8 172.8 L650.0 172.5 L656.2 172.2 L662.5 171.8 L668.8 171.4 L675.0 171.0 L681.2 170.6 L687.5 170.2 L693.8 169.8 L700.0 169.5 L705.9 169.2 L711.8 168.9 L717.7 168.6 L723.6 168.3 L729.4 168.1 L735.3 167.8 L741.2 167.7 L747.1 167.5 L753.0 167.5 L760.5 168.0 L768.0 168.8 L774.4 169.2 L780.8 169.7 L787.2 170.1 L793.6 170.4 L800.0 170.5 L806.2 170.5 L812.5 170.3 L818.8 170.2 L825.0 170.0 L831.2 169.8 L837.5 169.7 L843.8 169.5 L850.0 169.5 L856.2 169.5 L862.5 169.6 L868.8 169.7 L875.0 169.8 L881.2 169.8 L887.5 169.9 L893.8 170.0 L900.0 170.0 L906.1 169.9 L912.2 169.8 L918.4 169.5 L924.5 169.2 L930.6 168.9 L936.8 168.6 L942.9 168.3 L949.0 168.0" stroke="#000" stroke-width="1.35" stroke-dasharray="3.6 2"/>
<path d="M71.0 205.0 L77.3 205.2 L83.6 205.3 L89.9 205.5 L96.1 205.7 L102.4 205.9 L108.7 206.0 L115.0 206.0 L120.9 205.8 L126.8 205.4 L132.7 204.8 L138.6 204.0 L144.4 203.2 L150.3 202.4 L156.2 201.7 L162.1 201.2 L168.0 201.0 L174.1 200.9 L180.2 200.8 L186.2 200.8 L192.3 200.7 L198.4 200.7 L204.5 200.6 L210.6 200.6 L216.7 200.6 L222.8 200.5 L228.8 200.5 L234.9 200.5 L241.0 200.5 L246.9 200.5 L252.8 200.6 L258.7 200.6 L264.6 200.7 L270.5 200.8 L276.4 200.8 L282.3 200.9 L288.2 200.9 L294.1 201.0 L299.1 201.0" stroke="#000" stroke-width="1.35" stroke-dasharray="3.6 2"/>
<path d="M329.9 201.0 L332.2 201.0 L338.3 201.0 L344.3 201.0 L350.4 201.0 L356.5 201.0 L362.6 201.0 L368.7 201.0 L374.8 201.0 L380.9 201.0 L387.0 201.0 L393.0 201.0 L399.1 201.0 L405.2 201.0 L411.3 201.0 L417.4 201.0 L423.5 201.0 L429.6 201.0 L435.7 201.0 L441.7 201.0 L447.8 201.0 L453.9 201.0 L460.0 201.0 L466.1 201.0 L472.2 201.0 L478.3 201.1 L484.4 201.1 L490.5 201.2 L496.6 201.2 L502.7 201.3 L508.8 201.4 L514.9 201.5 L521.1 201.5 L527.2 201.6 L533.3 201.7 L539.4 201.8 L543.5 201.8" stroke="#000" stroke-width="1.35" stroke-dasharray="3.6 2"/>
<path d="M574.5 202.0 L576.0 202.0 L582.2 202.0 L588.4 202.0 L594.6 202.0 L600.8 202.0 L607.0 202.0 L613.1 202.0 L619.3 201.9 L625.4 201.8 L631.6 201.6 L637.7 201.4 L643.9 201.2 L650.0 201.0 L656.2 200.7 L662.5 200.3 L668.8 199.8 L675.0 199.3 L681.2 198.7 L687.5 198.2 L693.8 197.8 L700.0 197.5 L705.9 197.3 L711.8 197.1 L717.7 196.9 L723.6 196.7 L729.4 196.6 L735.3 196.4 L741.2 196.3 L747.1 196.3 L753.0 196.2 L759.2 196.3 L765.3 196.4 L771.5 196.5 L777.7 196.6 L783.8 196.7 L788.0 196.7" stroke="#000" stroke-width="1.35" stroke-dasharray="3.6 2"/>
<path d="M819.0 196.5 L820.0 196.5 L826.0 196.4 L832.0 196.2 L838.0 196.1 L844.0 195.9 L850.0 195.8 L856.2 195.8 L862.5 195.9 L868.8 196.0 L875.0 196.1 L881.2 196.3 L887.5 196.5 L893.8 196.6 L900.0 196.8 L906.1 196.9 L912.2 197.0 L918.4 197.0 L924.5 197.1 L930.6 197.2 L936.8 197.3 L942.9 197.4 L949.0 197.5" stroke="#000" stroke-width="1.35" stroke-dasharray="3.6 2"/>
<path d="M71.0 238.5 L77.1 238.4 L83.2 238.3 L89.4 238.3 L95.5 238.2 L101.6 238.1 L107.8 238.0 L113.9 237.9 L120.0 237.8 L126.0 237.4 L132.0 236.8 L138.0 236.0 L144.0 235.1 L150.0 234.2 L156.0 233.4 L162.0 232.7 L168.0 232.2 L174.1 232.0 L180.2 231.7 L186.2 231.5 L192.3 231.3 L198.4 231.1 L204.5 231.0 L210.6 230.8 L216.7 230.7 L222.8 230.6 L228.8 230.4 L234.9 230.3 L241.0 230.2 L247.1 230.2 L253.2 230.1 L259.2 230.0 L265.3 229.9 L271.4 229.9 L277.5 229.8 L283.6 229.8 L289.7 229.7 L295.8 229.7 L301.8 229.6 L307.9 229.6 L314.0 229.5 L320.0 229.4 L326.0 229.4 L332.0 229.3 L338.0 229.3 L344.0 229.2 L349.1 229.2" stroke="#000" stroke-width="1.35" stroke-dasharray="3.6 2"/>
<path d="M379.9 228.9 L380.3 228.9 L386.4 228.8 L392.5 228.8 L398.7 228.7 L404.8 228.6 L410.9 228.6 L417.1 228.5 L423.2 228.4 L429.3 228.4 L435.5 228.3 L441.6 228.3 L447.7 228.3 L453.9 228.3 L460.0 228.2 L466.1 228.3 L472.2 228.3 L478.3 228.3 L484.4 228.3 L490.5 228.3 L496.6 228.3 L502.7 228.3 L508.8 228.3 L514.9 228.3 L521.1 228.3 L527.2 228.3 L533.3 228.3 L539.4 228.4 L545.5 228.4 L551.6 228.4 L557.7 228.4 L563.8 228.4 L569.9 228.5 L576.0 228.5 L582.2 228.6 L588.4 228.7 L593.0 228.8" stroke="#000" stroke-width="1.35" stroke-dasharray="3.6 2"/>
<path d="M624.0 228.9 L625.2 228.9 L631.3 228.8 L637.4 228.7 L643.5 228.6 L649.6 228.5 L655.7 228.3 L661.8 228.2 L667.8 228.0 L673.9 227.9 L680.0 227.8 L686.1 227.6 L692.2 227.4 L698.2 227.1 L704.3 226.9 L710.4 226.6 L716.5 226.3 L722.6 226.0 L728.7 225.7 L734.8 225.4 L740.8 225.2 L746.9 224.9 L753.0 224.8 L759.1 224.6 L765.2 224.4 L771.2 224.3 L777.3 224.2 L783.4 224.0 L789.5 223.9 L795.5 223.8 L801.6 223.7 L807.7 223.6 L813.8 223.4 L819.8 223.3 L825.9 223.2 L832.0 223.0 L838.3 222.8 L844.7 222.6 L851.0 222.4 L857.3 222.2 L863.7 222.0 L870.0 221.8 L876.0 221.5 L882.0 221.2 L888.0 220.8 L894.0 220.6 L900.0 220.5 L906.1 220.6 L912.2 220.8 L918.4 221.1 L924.5 221.4 L930.6 221.8 L936.8 222.3 L942.9 222.7 L949.0 223.0" stroke="#000" stroke-width="1.35" stroke-dasharray="3.6 2"/>
<path d="M71.0 272.0 L77.1 271.8 L83.2 271.6 L89.4 271.4 L95.5 271.2 L101.6 271.0 L107.8 270.8 L113.9 270.6 L120.0 270.2 L126.0 269.8 L132.0 269.3 L138.0 268.6 L144.0 267.9 L150.0 267.1 L156.0 266.4 L162.0 265.8 L168.0 265.2 L174.1 264.8 L180.2 264.4 L186.2 264.1 L192.3 263.7 L198.4 263.4 L204.5 263.1 L210.6 262.8 L216.7 262.5 L222.8 262.2 L228.8 262.0 L234.9 261.7 L241.0 261.5 L247.1 261.3 L253.2 261.1 L259.2 260.9 L265.3 260.8 L271.4 260.6 L277.5 260.4 L283.6 260.3 L289.7 260.1 L295.8 260.0 L301.8 259.8 L307.9 259.7 L314.0 259.5 L320.1 259.3 L326.2 259.1 L332.2 258.9 L338.3 258.8 L344.4 258.6 L350.5 258.4 L356.6 258.2 L362.7 258.0 L368.8 257.8 L374.8 257.6 L380.9 257.4 L387.0 257.2 L393.1 257.1 L399.2 256.9 L405.2 256.7 L411.3 256.5 L417.4 256.3 L423.5 256.1 L429.6 255.9 L435.7 255.8 L441.8 255.6 L447.8 255.5 L453.9 255.4 L460.0 255.2 L466.1 255.2 L472.2 255.1 L478.2 255.0 L484.3 254.9 L490.4 254.8 L496.5 254.7 L502.6 254.7 L508.7 254.6 L514.8 254.6 L520.8 254.5 L526.9 254.5 L533.0 254.5 L539.1 254.5 L545.3 254.6 L551.4 254.6 L557.6 254.7 L563.7 254.8 L569.9 254.9 L576.0 255.0 L582.2 255.1 L588.3 255.3 L592.5 255.5" stroke="#000" stroke-width="1.35" stroke-dasharray="3.6 2"/>
<path d="M623.5 256.0 L625.2 256.0 L631.3 255.9 L637.4 255.9 L643.5 255.8 L649.5 255.7 L655.6 255.6 L661.7 255.5 L667.8 255.4 L673.9 255.3 L680.0 255.2 L686.1 255.1 L692.2 255.0 L698.2 254.9 L704.3 254.7 L710.4 254.6 L716.5 254.4 L722.6 254.2 L728.7 254.1 L734.8 253.9 L740.8 253.8 L746.9 253.6 L753.0 253.5 L759.1 253.4 L765.2 253.3 L771.2 253.2 L777.3 253.1 L783.4 253.1 L789.5 253.0 L795.5 252.9 L801.6 252.8 L807.7 252.8 L813.8 252.7 L819.8 252.5 L825.9 252.4 L832.0 252.2 L838.3 252.0 L844.7 251.6 L851.0 251.1 L857.3 250.6 L863.7 250.2 L870.0 249.8 L876.0 249.4 L882.0 249.0 L888.0 248.6 L894.0 248.4 L900.0 248.2 L906.1 248.3 L912.2 248.5 L918.4 248.8 L924.5 249.2 L930.6 249.6 L936.8 250.0 L942.9 250.4 L949.0 250.8" stroke="#000" stroke-width="1.35" stroke-dasharray="3.6 2"/>
<path d="M71.0 309.5 L77.1 309.3 L83.2 309.1 L89.4 308.9 L95.5 308.7 L101.6 308.5 L107.8 308.3 L113.9 308.0 L120.0 307.8 L126.0 307.4 L132.0 306.8 L138.0 306.2 L144.0 305.6 L150.0 304.9 L156.0 304.3 L162.0 303.8 L168.0 303.5 L173.9 303.3 L179.8 303.1 L185.6 303.0 L191.5 302.9 L197.4 302.8 L203.2 302.7 L209.1 302.5 L215.0 302.2 L221.5 301.7 L228.0 300.9 L234.5 299.9 L241.0 299.0 L247.5 298.2 L254.0 297.3 L260.5 296.5 L267.0 295.6 L273.5 294.8 L280.0 294.0 L285.7 293.3 L291.3 292.5 L297.0 291.8 L302.7 291.1 L308.3 290.6 L314.0 290.2 L320.1 290.0 L326.2 289.8 L332.2 289.7 L338.3 289.5 L344.4 289.4 L350.5 289.3 L356.6 289.2 L362.7 289.1 L368.8 289.0 L374.8 288.9 L380.9 288.7 L387.0 288.5 L393.1 288.2 L399.3 287.8 L405.4 287.3 L411.6 286.8 L417.7 286.2 L423.9 285.7 L430.0 285.2 L436.0 284.9 L442.0 284.5 L448.0 284.1 L454.0 283.8 L460.0 283.5 L465.7 283.2 L471.4 283.0 L477.1 282.7 L482.9 282.5 L488.6 282.3 L494.3 282.1 L500.0 282.0 L505.5 281.9 L511.0 281.8 L516.5 281.7 L522.0 281.7 L527.5 281.6 L533.0 281.5 L539.8 281.4 L544.0 281.3" stroke="#000" stroke-width="1.35" stroke-dasharray="3.6 2"/>
<path d="M575.0 281.0 L576.0 281.0 L582.1 281.0 L588.2 281.0 L594.4 281.0 L600.5 281.0 L606.6 281.0 L612.7 281.0 L618.8 281.0 L624.9 281.0 L631.1 281.0 L637.2 281.0 L643.3 281.0 L649.4 281.0 L655.5 281.0 L661.6 281.0 L667.8 281.0 L673.9 281.0 L680.0 281.0 L686.1 281.0 L692.2 281.0 L698.2 281.0 L704.3 280.9 L710.4 280.9 L716.5 280.9 L722.6 280.8 L728.7 280.8 L734.8 280.8 L740.8 280.8 L746.9 280.8 L753.0 280.8 L759.1 280.8 L765.2 280.8 L771.3 280.9 L777.4 281.1 L783.6 281.2 L787.5 281.3" stroke="#000" stroke-width="1.35" stroke-dasharray="3.6 2"/>
<path d="M818.5 281.4 L820.0 281.3 L826.0 281.1 L832.0 280.9 L838.0 280.7 L844.0 280.4 L850.0 280.2 L856.2 280.1 L862.5 279.9 L868.8 279.7 L875.0 279.5 L881.2 279.3 L887.5 279.1 L893.8 279.0 L900.0 279.0 L906.1 279.1 L912.2 279.2 L918.4 279.5 L924.5 279.8 L930.6 280.1 L936.8 280.4 L942.9 280.7 L949.0 281.0" stroke="#000" stroke-width="1.35" stroke-dasharray="3.6 2"/>
<path d="M71.0 342.8 L77.1 342.7 L83.2 342.6 L89.4 342.5 L95.5 342.4 L101.6 342.3 L107.8 342.2 L113.9 342.1 L120.0 342.0 L126.0 341.8 L132.0 341.6 L138.0 341.4 L144.0 341.1 L150.0 340.9 L156.0 340.6 L162.0 340.4 L168.0 340.2 L174.1 340.1 L180.2 340.0 L186.2 339.9 L192.3 339.8 L198.4 339.7 L204.5 339.6 L210.6 339.5 L216.7 339.4 L222.8 339.3 L228.8 339.2 L234.9 339.1 L241.0 339.0 L247.1 338.8 L253.2 338.6 L259.2 338.4 L265.3 338.1 L271.4 337.8 L277.5 337.5 L283.6 337.3 L289.7 337.0 L295.8 336.8 L301.8 336.6 L307.9 336.5 L314.0 336.5 L319.8 336.6 L325.5 336.7 L331.2 337.0 L337.0 337.3 L342.8 337.6 L348.5 338.0 L354.2 338.3 L360.0 338.5 L365.8 338.7 L371.7 338.9 L377.5 339.1 L383.3 339.3 L389.2 339.5 L395.0 339.5 L401.2 339.4 L407.5 339.2 L413.8 338.9 L420.0 338.5 L425.7 338.0 L431.4 337.1 L437.1 336.1 L442.9 335.0 L448.6 333.9 L454.3 333.0 L460.0 332.2 L465.7 331.8 L471.4 331.4 L477.1 331.1 L482.9 330.8 L488.6 330.4 L494.3 330.0 L500.0 329.5 L506.7 328.6 L513.3 327.3 L520.0 326.0 L526.2 324.6 L532.5 323.0 L538.8 321.5 L545.0 320.2 L551.2 319.2 L557.4 318.3 L563.6 317.5 L569.8 316.7 L576.0 316.0 L582.2 315.3 L588.4 314.6 L594.6 313.9 L600.8 313.3 L607.0 312.8 L612.5 312.3 L618.0 311.9 L623.5 311.4 L629.0 311.1 L634.5 310.7 L640.0 310.2 L645.7 309.8 L651.4 309.3 L657.1 308.9 L662.9 308.4 L668.6 308.0 L674.3 307.6 L680.0 307.2 L686.0 306.9 L692.0 306.6 L698.0 306.3 L704.0 306.1 L710.0 306.0 L716.1 306.0 L722.3 306.2 L728.4 306.4 L734.6 306.6 L740.7 306.8 L746.9 307.0 L753.0 307.2 L759.1 307.5 L765.2 307.7 L771.3 308.0 L777.4 308.2 L783.6 308.5 L787.5 308.6" stroke="#000" stroke-width="1.35" stroke-dasharray="3.6 2"/>
<path d="M818.5 308.9 L820.0 308.9 L826.0 308.8 L832.0 308.7 L838.0 308.6 L844.0 308.6 L850.0 308.5 L856.2 308.5 L862.5 308.4 L868.8 308.4 L875.0 308.3 L881.2 308.3 L887.5 308.3 L893.8 308.3 L900.0 308.2 L906.1 308.3 L912.2 308.3 L918.4 308.4 L924.5 308.5 L930.6 308.7 L936.8 308.8 L942.9 308.9 L949.0 309.0" stroke="#000" stroke-width="1.35" stroke-dasharray="3.6 2"/>
<path d="M71.0 370.2 L77.1 370.2 L83.1 370.1 L89.2 370.0 L95.2 369.9 L101.3 369.8 L107.4 369.7 L113.4 369.6 L119.5 369.5 L125.6 369.4 L131.6 369.3 L137.7 369.2 L143.8 369.1 L149.8 369.1 L155.9 369.0 L161.9 369.0 L168.0 369.0 L174.1 369.0 L180.2 369.0 L186.2 369.0 L192.3 369.0 L198.4 369.0 L204.5 369.0 L210.6 369.0 L216.7 369.0 L222.8 369.0 L228.8 369.0 L234.9 369.0 L241.0 369.0 L247.2 369.1 L250.6 369.2" stroke="#000" stroke-width="1.35" stroke-dasharray="3.6 2"/>
<path d="M281.4 369.3 L284.0 369.2 L290.0 369.0 L296.0 368.8 L302.0 368.7 L308.0 368.5 L314.0 368.5 L320.1 368.5 L326.2 368.6 L332.2 368.8 L338.3 368.9 L344.4 369.2 L350.5 369.4 L356.6 369.6 L362.7 369.9 L368.8 370.1 L374.8 370.4 L380.9 370.6 L387.0 370.8 L393.1 370.9 L399.2 371.0 L405.2 371.2 L411.3 371.3 L417.4 371.5 L423.5 371.6 L429.6 371.7 L435.7 371.9 L441.8 372.0 L447.8 372.1 L453.9 372.2 L460.0 372.2 L466.0 372.3 L472.0 372.4 L478.0 372.5 L484.0 372.6 L490.0 372.6 L495.1 372.7" stroke="#000" stroke-width="1.35" stroke-dasharray="3.6 2"/>
<path d="M526.0 372.8 L526.7 372.8 L533.0 372.8 L539.8 372.6 L546.5 372.4 L553.2 372.0 L560.0 371.5 L565.3 371.0 L570.7 370.3 L576.0 369.5 L582.2 368.6 L588.4 367.7 L594.6 366.7 L600.8 365.8 L607.0 364.8 L612.5 363.9 L618.0 363.1 L623.5 362.2 L629.0 361.3 L634.5 360.2 L640.0 359.0 L646.7 356.8 L653.3 354.0 L660.0 351.5 L666.7 349.4 L673.3 347.5 L680.0 345.8 L686.7 344.0 L693.3 342.5 L700.0 341.5 L706.0 341.1 L712.0 340.7 L718.0 340.5 L724.0 340.3 L730.0 340.2 L735.8 340.3 L741.5 340.5 L747.2 340.7 L753.0 341.0 L760.5 342.0 L768.0 343.5 L774.0 344.7 L780.0 346.0 L785.0 347.1 L790.0 348.2 L797.5 350.0 L805.0 351.0 L810.2 350.7 L815.5 349.9 L820.8 349.0 L826.0 348.2 L832.0 347.6 L838.0 346.9 L844.0 346.3 L850.0 345.8 L856.2 345.2 L862.5 344.7 L868.8 344.2 L875.0 343.8 L881.2 343.4 L887.5 343.0 L893.8 342.8 L900.0 342.8 L906.1 342.8 L912.2 342.8 L918.4 342.9 L924.5 343.0 L930.6 343.2 L936.8 343.3 L942.9 343.4 L949.0 343.5" stroke="#000" stroke-width="1.35" stroke-dasharray="3.6 2"/>
<path d="M71.0 395.2 L77.1 395.1 L83.2 395.0 L89.4 394.9 L95.5 394.8 L101.6 394.7 L107.8 394.6 L113.9 394.5 L120.0 394.5 L126.0 394.5 L132.0 394.5 L138.0 394.5 L144.0 394.6 L150.0 394.6 L156.0 394.7 L162.0 394.7 L168.0 394.8 L174.2 394.8 L180.5 395.0 L186.8 395.1 L193.0 395.3 L199.2 395.5 L202.1 395.5" stroke="#000" stroke-width="1.35" stroke-dasharray="3.6 2"/>
<path d="M232.9 395.8 L235.2 395.8 L241.0 395.8 L247.1 395.8 L253.2 395.8 L259.2 395.8 L265.3 395.9 L271.4 396.0 L277.5 396.0 L283.6 396.1 L289.7 396.2 L295.8 396.3 L301.8 396.4 L307.9 396.4 L314.0 396.5 L320.1 396.6 L326.2 396.6 L332.2 396.7 L338.3 396.7 L344.4 396.8 L350.5 396.8 L356.6 396.9 L362.7 396.9 L368.8 396.9 L374.8 397.0 L380.9 397.0 L387.0 397.1 L393.1 397.1 L399.2 397.2 L405.2 397.2 L411.3 397.3 L417.4 397.3 L423.5 397.4 L429.6 397.4 L435.7 397.5 L441.8 397.6 L447.8 397.6 L453.9 397.7 L460.0 397.8 L466.1 397.8 L472.2 397.9 L478.3 398.0 L484.4 398.2 L490.5 398.3 L496.6 398.4 L502.7 398.6 L508.8 398.7 L514.9 398.8 L521.1 399.0 L527.2 399.1 L533.3 399.3 L539.4 399.4 L545.5 399.5 L551.6 399.6 L557.7 399.6 L563.8 399.7 L569.9 399.7 L576.0 399.8 L581.8 399.7 L587.6 399.8 L593.5 399.8 L599.3 399.8 L605.1 399.8 L610.9 399.8 L616.7 399.8 L622.5 399.8 L628.4 399.8 L634.2 399.8 L640.0 399.8 L645.7 399.7 L651.4 399.4 L657.1 399.1 L662.9 398.7 L668.6 398.2 L674.3 397.8 L680.0 397.5 L685.7 397.2 L691.4 397.0 L697.1 396.7 L702.9 396.5 L708.6 396.2 L714.3 396.0 L720.0 395.8 L726.7 395.4 L733.3 395.1 L739.0 395.0" stroke="#000" stroke-width="1.35" stroke-dasharray="3.6 2"/>
<path d="M770.0 396.2 L771.4 396.2 L777.1 396.5 L782.9 396.8 L788.6 397.1 L794.3 397.6 L800.0 398.2 L805.0 399.8 L811.8 399.4 L818.5 398.6 L825.2 397.7 L832.0 397.2 L838.0 397.2 L844.0 397.1 L850.0 397.0 L856.2 396.8 L862.5 396.5 L868.8 396.2 L875.0 395.8 L881.2 395.5 L887.5 395.1 L893.8 394.8 L900.0 394.5 L906.1 394.3 L912.2 394.1 L918.4 394.0 L924.5 393.8 L930.6 393.7 L936.8 393.5 L942.9 393.4 L949.0 393.2" stroke="#000" stroke-width="1.35" stroke-dasharray="3.6 2"/>
<path d="M71.0 417.8 L77.1 417.6 L83.2 417.5 L89.4 417.4 L95.5 417.3 L101.6 417.2 L107.8 417.1 L113.9 417.0 L120.0 417.0 L126.0 417.1 L132.0 417.2 L138.0 417.4 L144.0 417.6 L150.0 417.9 L156.0 418.1 L162.0 418.2 L168.0 418.2 L173.8 418.2 L179.6 418.2 L185.3 418.2 L191.1 418.2 L196.9 418.2 L202.7 418.2 L204.9 418.2" stroke="#000" stroke-width="1.35" stroke-dasharray="3.6 2"/>
<path d="M228.1 418.6 L230.5 418.8 L235.8 419.2 L241.0 419.5 L247.1 419.7 L253.2 419.8 L259.2 420.0 L265.3 420.1 L271.4 420.2 L277.5 420.3 L283.6 420.4 L289.7 420.5 L295.8 420.5 L301.8 420.6 L307.9 420.7 L314.0 420.8 L320.1 420.8 L326.2 420.9 L332.2 420.9 L338.3 421.0 L344.4 421.1 L350.5 421.1 L356.6 421.2 L362.7 421.2 L368.8 421.3 L374.8 421.3 L380.9 421.3 L387.0 421.4 L393.1 421.4 L399.2 421.5 L405.2 421.5 L411.3 421.6 L417.4 421.6 L423.5 421.7 L429.6 421.7 L435.7 421.8 L441.8 421.8 L447.8 421.9 L449.9 421.9" stroke="#000" stroke-width="1.35" stroke-dasharray="3.6 2"/>
<path d="M473.1 422.2 L478.3 422.2 L484.4 422.3 L490.5 422.4 L496.6 422.5 L502.7 422.6 L508.8 422.7 L514.9 422.8 L521.1 422.9 L527.2 423.1 L533.3 423.2 L539.4 423.3 L545.5 423.4 L551.6 423.4 L557.7 423.5 L563.8 423.6 L569.9 423.7 L576.0 423.8 L582.1 423.8 L588.2 423.9 L594.4 423.9 L600.5 423.9 L606.6 424.0 L612.7 424.0 L618.8 424.1 L624.9 424.1 L631.1 424.1 L637.2 424.2 L643.3 424.2 L649.4 424.2 L655.5 424.3 L661.6 424.3 L667.8 424.4 L673.9 424.4 L680.0 424.5 L686.1 424.6 L692.2 424.6 L698.2 424.7 L704.3 424.8 L710.4 424.9 L716.5 425.0 L722.6 425.1 L728.7 425.2 L734.8 425.3 L740.8 425.5 L746.9 425.6 L753.0 425.8 L758.9 425.9 L764.8 426.2 L770.7 426.5 L776.6 426.8 L782.4 427.1 L788.3 427.3 L791.9 427.5" stroke="#000" stroke-width="1.35" stroke-dasharray="3.6 2"/>
<path d="M815.1 427.8 L819.0 427.8 L825.5 427.8 L832.0 427.8 L838.0 427.6 L844.0 427.3 L850.0 427.0 L856.2 426.9 L862.5 426.7 L868.8 426.6 L875.0 426.6 L881.2 426.5 L887.5 426.4 L893.8 426.3 L900.0 426.2 L906.1 426.2 L912.2 426.1 L918.4 426.0 L924.5 426.0 L930.6 425.9 L936.8 425.9 L942.9 425.8 L949.0 425.8" stroke="#000" stroke-width="1.35" stroke-dasharray="3.6 2"/>
<path d="M71.0 442.5 L77.1 442.3 L83.2 442.1 L89.4 441.9 L95.5 441.7 L101.6 441.5 L107.8 441.4 L113.9 441.3 L120.0 441.2 L126.0 441.3 L132.0 441.6 L138.0 441.9 L144.0 442.3 L150.0 442.7 L156.0 443.2 L162.0 443.6 L168.0 444.0 L174.4 444.4 L180.8 444.7 L187.2 445.0 L193.6 445.4 L200.0 445.8 L205.9 446.1 L211.7 446.5 L217.6 446.8 L223.4 447.2 L229.3 447.6 L235.1 447.9 L241.0 448.2 L246.8 448.6 L252.6 448.9 L258.4 449.2 L264.2 449.4 L270.0 449.5 L276.3 449.4 L282.6 449.3 L288.9 449.1 L295.1 448.9 L301.4 448.7 L307.7 448.6 L314.0 448.5 L320.1 448.5 L326.2 448.4 L332.2 448.4 L338.3 448.4 L344.4 448.4 L350.5 448.4 L356.6 448.4 L362.7 448.3 L368.8 448.3 L374.8 448.3 L380.9 448.3 L387.0 448.2 L393.1 448.2 L399.2 448.2 L405.2 448.1 L411.3 448.1 L417.4 448.0 L423.5 447.9 L429.6 447.9 L435.7 447.8 L441.8 447.7 L447.8 447.6 L453.9 447.6 L460.0 447.5 L466.1 447.4 L472.2 447.3 L478.2 447.2 L484.3 447.1 L490.4 447.0 L496.5 446.9 L502.6 446.8 L508.7 446.7 L514.8 446.6 L520.8 446.6 L526.9 446.5 L533.0 446.5 L539.1 446.5 L545.3 446.7 L551.4 446.8 L557.6 447.0 L563.7 447.2 L569.9 447.4 L576.0 447.5 L582.1 447.6 L588.2 447.7 L594.4 447.9 L600.5 448.0 L606.6 448.1 L612.7 448.2 L618.8 448.3 L624.9 448.4 L631.1 448.5 L637.2 448.6 L643.3 448.7 L649.4 448.8 L655.5 448.9 L661.6 448.9 L667.8 449.0 L673.9 449.0 L680.0 449.0 L685.8 449.0 L691.6 449.0 L694.4 449.0" stroke="#000" stroke-width="1.35" stroke-dasharray="3.6 2"/>
<path d="M717.6 449.0 L721.6 449.0 L727.9 449.0 L734.1 449.0 L740.4 449.0 L746.7 449.0 L753.0 449.0 L759.1 449.0 L765.2 449.1 L771.2 449.1 L777.3 449.2 L783.4 449.3 L789.5 449.4 L795.5 449.6 L801.6 449.7 L807.7 449.8 L813.8 449.9 L819.8 449.9 L825.9 450.0 L832.0 450.0 L838.2 450.0 L844.4 450.0 L850.5 449.9 L856.7 449.8 L862.9 449.8 L869.1 449.7 L875.3 449.7 L881.5 449.6 L887.6 449.5 L893.8 449.5 L900.0 449.5 L906.1 449.5 L912.2 449.6 L918.4 449.7 L924.5 449.8 L930.6 449.9 L936.8 450.0 L942.9 450.1 L949.0 450.2" stroke="#000" stroke-width="1.35" stroke-dasharray="3.6 2"/>
<path d="M71.0 455.8 L77.3 455.3 L83.6 454.9 L89.9 454.4 L96.1 454.0 L102.4 453.6 L108.7 453.3 L115.0 453.2 L120.9 453.4 L126.8 453.9 L132.7 454.6 L138.6 455.5 L144.4 456.4 L150.3 457.4 L156.2 458.4 L162.1 459.3 L168.0 460.0 L174.1 460.6 L180.2 461.2 L186.2 461.8 L192.3 462.3 L198.4 462.8 L204.5 463.3 L210.6 463.8 L216.7 464.3 L222.8 464.8 L228.8 465.2 L234.9 465.7 L241.0 466.2 L247.0 466.8 L253.0 467.5 L259.0 468.0 L265.0 468.2 L271.1 468.2 L277.2 468.0 L283.4 467.7 L289.5 467.4 L295.6 467.1 L301.8 466.8 L307.9 466.5 L314.0 466.2 L320.1 466.1 L326.2 465.9 L332.2 465.7 L338.3 465.6 L344.4 465.4 L350.5 465.3 L356.6 465.1 L362.7 465.0 L368.8 464.9 L374.8 464.7 L380.9 464.6 L387.0 464.5 L393.1 464.4 L399.2 464.3 L405.2 464.2 L411.3 464.1 L417.4 464.0 L423.5 463.9 L429.6 463.8 L435.7 463.7 L441.8 463.6 L447.8 463.5 L453.9 463.4 L460.0 463.2 L466.2 463.1 L472.5 462.8 L478.8 462.5 L485.0 462.2 L491.2 462.0 L497.5 461.7 L503.8 461.6 L510.0 461.5 L516.0 461.5 L522.0 461.6 L528.0 461.7 L534.0 461.9 L540.0 462.0 L546.0 462.2 L552.0 462.4 L558.0 462.5 L564.0 462.6 L570.0 462.7 L576.0 462.8 L582.1 462.7 L588.2 462.7 L594.4 462.7 L600.5 462.6 L606.6 462.6 L612.7 462.5 L618.8 462.5 L624.9 462.4 L631.1 462.3 L637.2 462.3 L643.3 462.2 L649.4 462.2 L655.5 462.1 L661.6 462.1 L667.8 462.0 L673.9 462.0 L680.0 462.0 L686.1 462.0 L692.2 462.0 L698.2 462.0 L704.3 462.1 L710.4 462.1 L716.5 462.2 L722.6 462.2 L728.7 462.3 L734.8 462.3 L740.8 462.4 L746.9 462.4 L753.0 462.5 L759.1 462.6 L765.2 462.7 L771.2 462.8 L777.3 462.9 L783.4 463.0 L789.5 463.2 L795.5 463.3 L801.6 463.4 L807.7 463.5 L813.8 463.6 L819.8 463.7 L825.9 463.7 L832.0 463.8 L838.0 463.5 L844.0 463.1 L850.0 462.8 L856.2 462.6 L862.5 462.5 L868.8 462.3 L875.0 462.2 L881.2 462.1 L887.5 462.1 L893.8 462.0 L900.0 462.0 L906.1 462.1 L912.2 462.2 L918.4 462.4 L924.5 462.7 L930.6 462.9 L936.8 463.2 L942.9 463.5 L949.0 463.8" stroke="rgb(250,25,150)" stroke-width="1.15"/>
<path d="M71.0 472.0 L77.5 471.9 L84.0 471.7 L90.5 471.5 L97.0 471.4 L103.5 471.3 L110.0 471.2 L112.2 471.4" stroke="#000" stroke-width="1.35"/>
<path d="M124.8 472.4 L130.0 472.8 L136.3 473.4 L142.7 474.4 L149.0 475.5 L155.3 476.7 L161.7 477.9 L168.0 479.0 L173.9 480.1 L179.8 481.2 L185.6 482.4 L191.5 483.6 L197.4 484.7 L203.2 485.6 L209.1 486.4 L215.0 487.0 L221.5 487.4 L228.0 487.7 L234.5 488.0 L241.0 488.2 L247.0 488.6 L253.0 489.0 L259.0 489.4 L265.0 489.5 L271.1 489.4 L277.2 489.0 L283.4 488.5 L289.5 487.9 L295.6 487.2 L301.8 486.5 L307.9 485.8 L314.0 485.2 L319.8 484.8 L325.5 484.4 L331.2 483.9 L337.0 483.5 L342.8 483.1 L348.5 482.7 L354.2 482.3 L360.0 482.0 L365.7 481.7 L371.4 481.3 L377.1 481.0 L382.9 480.7 L388.6 480.5 L394.3 480.3 L400.0 480.2 L405.6 480.5" stroke="#000" stroke-width="1.35"/>
<path d="M418.4 480.8 L424.0 480.8 L430.0 480.8 L436.0 480.8 L442.0 480.8 L448.0 480.8 L454.0 480.8 L460.0 480.8 L466.2 480.6 L472.5 480.3 L478.8 479.8 L485.0 479.2 L491.2 478.7 L497.5 478.2 L503.8 477.9 L510.0 477.8 L516.0 477.8 L522.0 477.8 L528.0 477.8 L534.0 477.8 L540.0 477.8 L546.0 477.8 L552.0 477.8 L558.0 477.8 L564.0 477.8 L570.0 477.8 L576.0 477.8 L582.2 477.6 L588.4 477.4 L594.6 477.1 L600.8 476.7 L607.0 476.5 L613.1 476.3 L619.2 476.2 L625.2 476.0 L631.3 475.9 L637.4 475.8 L643.5 475.6 L649.6 475.5 L655.7 475.4 L661.8 475.4 L667.8 475.3 L673.9 475.3 L680.0 475.2 L686.2 475.2 L692.5 475.2 L698.6 475.2" stroke="#000" stroke-width="1.35"/>
<path d="M711.4 475.2 L717.0 475.2 L723.0 475.2 L729.0 475.1 L735.0 475.1 L741.0 475.0 L747.0 475.0 L753.0 475.0 L758.9 475.1 L764.8 475.3 L770.6 475.5 L776.5 475.9 L782.4 476.2 L788.2 476.5 L794.1 476.8 L800.0 477.0 L806.4 477.1 L812.8 477.3 L819.2 477.4 L825.6 477.5 L832.0 477.5 L838.0 477.1 L844.0 476.3 L850.0 475.8 L856.2 475.5 L862.5 475.2 L868.8 475.0 L875.0 474.9 L881.2 474.7 L887.5 474.6 L893.8 474.5 L900.0 474.5 L906.1 474.6 L912.2 474.7 L918.4 475.0 L924.5 475.2 L930.6 475.6 L936.8 475.9 L942.9 476.2 L949.0 476.5" stroke="#000" stroke-width="1.35"/>
<path d="M71.0 608.5 L76.8 608.6 L82.6 608.6 L88.4 608.7 L94.2 608.7 L100.0 608.8 L106.2 608.8 L112.2 608.8" stroke="#000" stroke-width="1.35"/>
<path d="M124.8 608.4 L129.2 608.0 L134.6 607.4 L140.0 606.8 L145.6 606.1 L151.2 605.3 L156.8 604.6 L162.4 604.0 L168.0 603.8 L174.1 603.7 L180.2 603.7 L186.2 603.7 L192.3 603.6 L198.4 603.6 L204.5 603.6 L210.6 603.6 L216.7 603.6 L222.8 603.6 L228.8 603.6 L234.9 603.5 L241.0 603.5 L247.5 603.4 L254.0 603.3 L260.5 603.1 L267.0 602.9 L273.5 602.7 L280.0 602.5 L285.7 602.3 L291.3 602.1 L297.0 601.8 L302.7 601.6 L308.3 601.3 L314.0 601.0 L320.1 600.7 L326.2 600.3 L332.2 600.0 L338.3 599.6 L344.4 599.2 L350.5 598.7 L356.6 598.3 L362.7 597.9 L368.8 597.5 L374.8 597.1 L380.9 596.6 L387.0 596.2 L393.1 595.9 L399.3 595.5 L405.4 595.1 L411.6 594.7 L417.7 594.3 L423.9 593.9 L430.0 593.5 L436.0 593.0 L442.0 592.5 L448.0 592.0 L454.0 591.5 L460.0 591.2 L465.7 591.1 L471.4 591.0 L477.1 590.9 L482.9 590.8 L488.6 590.7 L494.3 590.6 L500.0 590.5 L505.5 590.4 L511.0 590.3 L516.5 590.1 L522.0 590.0 L527.5 589.9 L533.0 589.8 L539.1 589.6 L545.3 589.5 L551.4 589.4 L557.6 589.3 L563.7 589.2 L569.9 589.1 L576.0 589.0 L582.2 588.8 L588.4 588.6 L594.6 588.4 L600.8 588.2 L607.0 588.0 L613.1 587.9 L619.3 587.7 L625.4 587.6 L631.6 587.4 L637.7 587.3 L643.9 587.3 L650.0 587.2 L656.0 587.3 L662.0 587.4 L668.0 587.6 L674.0 587.8 L680.0 588.0 L686.2 588.3 L692.5 588.7 L698.6 589.1" stroke="#000" stroke-width="1.35"/>
<path d="M711.4 589.2 L717.0 589.0 L723.0 588.8 L729.0 588.4 L735.0 588.1 L741.0 587.8 L747.0 587.5 L753.0 587.2 L758.9 587.1 L764.8 586.8 L770.6 586.6 L776.5 586.4 L782.4 586.3 L788.2 586.1 L794.1 586.0 L800.0 586.0 L806.4 586.1 L812.8 586.3 L819.2 586.5 L825.6 586.7 L832.0 586.8 L838.0 586.6 L844.0 586.4 L850.0 586.2 L856.2 586.3 L862.5 586.4 L868.8 586.6 L875.0 586.9 L881.2 587.1 L887.5 587.3 L893.8 587.4 L900.0 587.5 L906.1 587.5 L912.2 587.3 L918.4 587.2 L924.5 586.9 L930.6 586.7 L936.8 586.4 L942.9 586.2 L949.0 586.0" stroke="#000" stroke-width="1.35"/>
<path d="M71.0 629.8 L77.1 630.0 L83.2 630.2 L89.4 630.4 L95.5 630.7 L101.6 630.9 L107.8 631.1 L113.9 631.2 L120.0 631.2 L126.0 631.2 L132.0 630.9 L138.0 630.6 L144.0 630.2 L150.0 629.9 L156.0 629.6 L162.0 629.3 L168.0 629.2 L174.4 629.3 L180.8 629.4 L187.2 629.5 L193.6 629.6 L200.0 629.8 L205.7 629.9 L206.8 629.9" stroke="#000" stroke-width="1.35"/>
<path d="M227.2 629.6 L229.0 629.5 L235.0 629.1 L241.0 628.8 L247.1 628.4 L253.2 628.1 L259.2 627.8 L265.3 627.6 L271.4 627.3 L277.5 627.0 L283.6 626.7 L289.7 626.4 L295.8 626.0 L301.8 625.7 L307.9 625.4 L314.0 625.0 L320.1 624.6 L326.2 624.2 L332.2 623.7 L338.3 623.2 L344.4 622.7 L350.5 622.2 L356.6 621.6 L362.7 621.1 L368.8 620.6 L374.8 620.1 L380.9 619.7 L387.0 619.2 L393.1 618.8 L399.3 618.4 L405.4 618.0 L411.6 617.6 L417.7 617.2 L423.9 617.0 L430.0 616.8 L436.0 616.6 L442.0 616.5 L448.0 616.4 L454.0 616.3 L460.0 616.2 L465.7 616.3 L471.4 616.3 L477.1 616.4 L482.9 616.5 L488.6 616.6 L494.3 616.7 L500.0 616.8 L505.5 616.8 L511.0 616.9 L516.5 617.0 L522.0 617.1 L527.5 617.2 L533.0 617.2 L539.1 617.3 L545.3 617.4 L551.4 617.4 L557.6 617.4 L563.7 617.5 L569.9 617.5 L576.0 617.5 L582.2 617.4 L588.4 617.3 L594.6 617.1 L600.8 616.9 L607.0 616.8 L613.1 616.7 L619.2 616.6 L625.2 616.5 L631.3 616.4 L637.4 616.3 L643.5 616.2 L649.6 616.2 L655.7 616.1 L661.8 616.1 L667.8 616.0 L673.9 616.0 L680.0 616.0 L686.4 616.0 L692.8 616.0 L695.3 616.0" stroke="#000" stroke-width="1.35"/>
<path d="M715.7 616.0 L717.4 616.0 L723.3 616.0 L729.2 616.0 L735.2 616.0 L741.1 616.0 L747.1 616.0 L753.0 616.0 L759.2 616.1 L765.3 616.5 L771.5 617.0 L777.7 617.5 L783.8 618.1 L790.0 618.5 L796.5 619.0 L803.0 619.2 L808.8 619.0 L814.6 618.4 L820.4 617.6 L826.2 617.0 L832.0 616.8 L838.0 616.8 L844.0 616.8 L850.0 616.8 L856.2 616.6 L862.5 616.3 L868.8 615.9 L875.0 615.4 L881.2 614.9 L887.5 614.4 L893.8 614.0 L900.0 613.8 L906.1 613.6 L912.2 613.5 L918.4 613.4 L924.5 613.3 L930.6 613.2 L936.8 613.2 L942.9 613.1 L949.0 613.0" stroke="#000" stroke-width="1.35"/>
<path d="M146.0 668.8 L151.4 668.0 L156.9 667.3 L162.3 666.5 L167.8 665.7 L173.1 664.8 L178.4 663.8 L183.7 662.8 L189.0 661.8 L195.2 660.5 L201.5 659.2 L207.8 657.9 L214.0 656.8 L220.2 655.7 L226.5 654.8 L232.8 653.9 L239.0 653.0 L245.2 652.1 L251.5 651.3 L257.8 650.5 L264.0 649.8 L270.2 649.1 L276.5 648.4 L282.8 647.8 L289.0 647.2 L295.2 646.7 L301.5 646.1 L307.8 645.5 L314.0 645.0 L320.1 644.6 L326.2 644.1 L332.2 643.7 L338.3 643.3 L344.4 643.0 L350.5 642.6 L356.6 642.3 L362.7 641.9 L368.8 641.6 L374.8 641.2 L380.9 640.9 L387.0 640.5 L392.5 640.1 L398.0 639.7 L403.5 639.3 L409.0 639.0 L414.5 638.7 L420.0 638.5 L425.9 638.4 L431.7 638.3 L437.6 638.2 L443.4 638.1 L449.3 638.0 L450.8 638.0" stroke="#000" stroke-width="1.35"/>
<path d="M471.2 638.0 L474.0 638.0 L480.5 638.0 L487.0 638.0 L493.5 638.0 L500.0 638.0 L506.7 638.4 L513.3 639.2 L520.0 640.0 L526.0 640.7 L532.0 641.4 L538.0 642.1 L544.0 642.8 L550.0 643.5 L556.5 644.2 L563.0 644.8 L569.5 645.4 L576.0 646.0 L583.0 646.7 L590.0 647.5 L595.7 648.2 L601.3 648.8 L607.0 649.2 L613.1 649.4 L619.3 649.6 L625.4 649.7 L631.6 649.9 L637.7 649.9 L643.9 650.0 L650.0 650.0 L656.0 650.0 L662.0 649.8 L668.0 649.6 L674.0 649.4 L680.0 649.2 L685.7 649.0 L691.4 648.8 L697.1 648.5 L702.9 648.2 L708.6 647.9 L714.3 647.7 L720.0 647.5 L725.5 647.3 L731.0 647.2 L736.5 647.0 L742.0 646.9 L747.5 646.8 L753.0 646.8 L759.2 646.8 L765.3 647.1 L771.5 647.4 L777.7 647.8 L783.8 648.1 L790.0 648.5 L792.8 648.7" stroke="#000" stroke-width="1.35"/>
<path d="M813.2 649.1 L814.6 649.1 L820.4 648.9 L826.2 648.8 L832.0 648.8 L838.0 648.8 L844.0 648.8 L850.0 648.8 L856.2 648.8 L862.5 648.8 L868.8 648.9 L875.0 649.1 L881.2 649.2 L887.5 649.4 L893.8 649.6 L900.0 649.8 L906.1 650.0 L912.2 650.2 L918.4 650.5 L924.5 650.9 L930.6 651.2 L936.8 651.6 L942.9 651.9 L949.0 652.2" stroke="#000" stroke-width="1.35"/>
<path d="M258.5 668.8 L263.0 668.4 L267.5 668.0 L272.0 667.6 L276.5 667.2 L280.7 666.8 L284.8 666.4 L289.0 666.0 L293.2 665.6 L297.3 665.1 L301.5 664.6 L305.7 664.2 L309.8 663.8 L314.0 663.5 L317.8 663.3 L321.7 663.1 L325.5 663.0 L329.3 662.8 L333.2 662.7 L337.0 662.6 L340.8 662.5 L344.7 662.4 L348.5 662.3 L352.3 662.1 L356.2 661.9 L360.0 661.8 L363.9 661.5 L367.7 661.2 L371.6 660.8 L375.4 660.4 L379.3 659.9 L383.1 659.6 L387.0 659.2 L391.1 658.9 L395.2 658.7 L399.4 658.4 L403.5 658.1 L407.6 657.8 L411.8 657.6 L415.9 657.4 L420.0 657.2 L424.0 657.1 L428.0 657.0 L432.0 656.8 L436.0 656.7 L440.0 656.6 L444.0 656.5 L448.0 656.4 L452.0 656.3 L456.0 656.3 L460.0 656.2 L464.0 656.3 L468.0 656.3 L472.0 656.4 L476.0 656.4 L480.0 656.5 L484.0 656.7 L488.0 656.8 L492.0 656.9 L496.0 657.1 L500.0 657.2 L504.0 657.5 L508.0 657.9 L512.0 658.3 L516.0 658.8 L520.0 659.2 L523.8 659.7 L527.5 660.1 L531.2 660.5 L535.0 661.0 L538.8 661.5 L542.5 662.0 L546.2 662.5 L550.0 663.0 L554.3 663.6 L558.7 664.2 L563.0 664.8 L567.3 665.6 L571.7 666.4 L576.0 667.5 L579.0 668.8" stroke="#000" stroke-width="1.35"/>
<path d="M188.2 535.0 L199.0 532.8 L216.5 531.5 L239.0 533.2 L257.8 535.0 L239.0 537.5 L224.0 540.8 L215.2 543.5 L204.0 542.0 L196.5 539.5Z" stroke="#000" stroke-width="1.35"/>
<path d="M89.0 556.2 L100.0 554.8 L117.8 553.8 L130.0 554.8 L140.8 556.2 L128.0 558.5 L115.2 560.0 L100.0 558.8Z" stroke="#000" stroke-width="1.35"/>
<path d="M448.2 556.2 L455.0 553.8 L462.5 552.8 L475.0 554.5 L500.0 556.2 L482.5 558.2 L470.0 560.0 L463.8 561.0 L456.2 559.5Z" stroke="#000" stroke-width="1.35"/>
<path d="M669.8 556.2 L681.0 554.5 L688.5 552.0 L693.5 547.0 L696.0 538.2 L698.5 534.5 L706.0 532.5 L726.0 531.0 L741.0 530.8 L754.0 531.5 L768.0 532.5 L783.0 534.0 L796.5 536.2" stroke="#000" stroke-width="1.35"/>
<path d="M809.5 537.0 L830.5 535.0 L855.5 533.2 L880.5 530.8 L899.2 528.8 L918.0 531.2 L949.0 535.2" stroke="#000" stroke-width="1.35"/>
<path d="M669.8 556.2 L681.0 556.5 L696.0 557.0 L711.0 558.8 L726.0 561.2 L741.0 562.8 L754.0 563.5 L776.0 563.2 L793.0 562.2 L796.5 562.6" stroke="#000" stroke-width="1.35"/>
<path d="M809.5 562.3 L843.0 562.8 L880.5 561.2 L899.2 560.8 L918.0 561.5 L949.0 562.8" stroke="#000" stroke-width="1.35"/>
</g>
<g font-family="'Liberation Sans', sans-serif" font-size="14.6" fill="#000" stroke="#000" stroke-width="0.2" opacity="0.999">
<text transform="translate(691.85,66.56) scale(2.05,1)">-</text>
<text x="703.55" y="66.36" textLength="15.4" lengthAdjust="spacingAndGlyphs">50</text>
<text transform="translate(349.35,123.03) scale(2.05,1)">-</text>
<text x="361.05" y="122.83" textLength="15.4" lengthAdjust="spacingAndGlyphs">46</text>
<text transform="translate(691.85,111.96) scale(2.05,1)">-</text>
<text x="703.55" y="111.76" textLength="15.4" lengthAdjust="spacingAndGlyphs">46</text>
<text transform="translate(349.35,153.40) scale(2.05,1)">-</text>
<text x="361.05" y="153.20" textLength="15.4" lengthAdjust="spacingAndGlyphs">42</text>
<text transform="translate(740.85,145.67) scale(2.05,1)">-</text>
<text x="752.55" y="145.47" textLength="15.4" lengthAdjust="spacingAndGlyphs">42</text>
<text transform="translate(349.85,180.49) scale(2.05,1)">-</text>
<text x="361.55" y="180.29" textLength="15.4" lengthAdjust="spacingAndGlyphs">38</text>
<text transform="translate(594.35,179.65) scale(2.05,1)">-</text>
<text x="606.05" y="179.45" textLength="15.4" lengthAdjust="spacingAndGlyphs">38</text>
<text transform="translate(300.35,206.90) scale(2.05,1)">-</text>
<text x="312.05" y="206.70" textLength="15.4" lengthAdjust="spacingAndGlyphs">34</text>
<text transform="translate(544.85,207.84) scale(2.05,1)">-</text>
<text x="556.55" y="207.64" textLength="15.4" lengthAdjust="spacingAndGlyphs">34</text>
<text transform="translate(789.35,202.58) scale(2.05,1)">-</text>
<text x="801.05" y="202.38" textLength="15.4" lengthAdjust="spacingAndGlyphs">34</text>
<text transform="translate(350.35,234.93) scale(2.05,1)">-</text>
<text x="362.05" y="234.73" textLength="15.4" lengthAdjust="spacingAndGlyphs">30</text>
<text transform="translate(594.35,234.90) scale(2.05,1)">-</text>
<text x="606.05" y="234.70" textLength="15.4" lengthAdjust="spacingAndGlyphs">30</text>
<text transform="translate(593.85,261.85) scale(2.05,1)">-</text>
<text x="605.55" y="261.65" textLength="15.4" lengthAdjust="spacingAndGlyphs">26</text>
<text transform="translate(545.35,286.90) scale(2.05,1)">-</text>
<text x="557.05" y="286.70" textLength="15.4" lengthAdjust="spacingAndGlyphs">22</text>
<text transform="translate(788.85,287.38) scale(2.05,1)">-</text>
<text x="800.55" y="287.18" textLength="15.4" lengthAdjust="spacingAndGlyphs">22</text>
<text transform="translate(788.85,314.87) scale(2.05,1)">-</text>
<text x="800.55" y="314.67" textLength="15.4" lengthAdjust="spacingAndGlyphs">18</text>
<text transform="translate(251.85,375.40) scale(2.05,1)">-</text>
<text x="263.55" y="375.20" textLength="15.4" lengthAdjust="spacingAndGlyphs">14</text>
<text transform="translate(496.35,378.64) scale(2.05,1)">-</text>
<text x="508.05" y="378.44" textLength="15.4" lengthAdjust="spacingAndGlyphs">14</text>
<text transform="translate(203.35,401.65) scale(2.05,1)">-</text>
<text x="215.05" y="401.45" textLength="15.4" lengthAdjust="spacingAndGlyphs">10</text>
<text transform="translate(740.35,401.38) scale(2.05,1)">-</text>
<text x="752.05" y="401.18" textLength="15.4" lengthAdjust="spacingAndGlyphs">10</text>
<text transform="translate(206.20,424.15) scale(2.05,1)">-</text>
<text x="217.90" y="423.95" textLength="7.7" lengthAdjust="spacingAndGlyphs">6</text>
<text transform="translate(451.20,427.92) scale(2.05,1)">-</text>
<text x="462.90" y="427.72" textLength="7.7" lengthAdjust="spacingAndGlyphs">6</text>
<text transform="translate(793.20,433.63) scale(2.05,1)">-</text>
<text x="804.90" y="433.43" textLength="7.7" lengthAdjust="spacingAndGlyphs">6</text>
<text transform="translate(695.70,454.90) scale(2.05,1)">-</text>
<text x="707.40" y="454.70" textLength="7.7" lengthAdjust="spacingAndGlyphs">2</text>
<text x="114.65" y="477.70" textLength="7.7" lengthAdjust="spacingAndGlyphs">2</text>
<text x="408.15" y="486.45" textLength="7.7" lengthAdjust="spacingAndGlyphs">2</text>
<text x="701.15" y="480.95" textLength="7.7" lengthAdjust="spacingAndGlyphs">2</text>
<text x="114.65" y="614.45" textLength="7.7" lengthAdjust="spacingAndGlyphs">6</text>
<text x="701.15" y="594.95" textLength="7.7" lengthAdjust="spacingAndGlyphs">6</text>
<text x="209.30" y="635.70" textLength="15.4" lengthAdjust="spacingAndGlyphs">10</text>
<text x="697.80" y="621.70" textLength="15.4" lengthAdjust="spacingAndGlyphs">10</text>
<text x="453.30" y="643.70" textLength="15.4" lengthAdjust="spacingAndGlyphs">14</text>
<text x="795.30" y="654.95" textLength="15.4" lengthAdjust="spacingAndGlyphs">14</text>
<text x="799.15" y="543.90" textLength="7.7" lengthAdjust="spacingAndGlyphs">2</text>
<text x="799.15" y="568.90" textLength="7.7" lengthAdjust="spacingAndGlyphs">2</text>
</g>
<rect x="70" y="45" width="880" height="651" fill="none" stroke="#000" stroke-width="2"/>
<line x1="168.0" y1="697" x2="168.0" y2="701" stroke="#444" stroke-width="1"/>
<line x1="314.4" y1="697" x2="314.4" y2="701" stroke="#444" stroke-width="1"/>
<line x1="460.8" y1="697" x2="460.8" y2="701" stroke="#444" stroke-width="1"/>
<line x1="607.2" y1="697" x2="607.2" y2="701" stroke="#444" stroke-width="1"/>
<line x1="753.6" y1="697" x2="753.6" y2="701" stroke="#444" stroke-width="1"/>
<line x1="900.0" y1="697" x2="900.0" y2="701" stroke="#444" stroke-width="1"/>
<g font-family="'Liberation Sans', sans-serif" opacity="0.999">
<text x="19.05" y="130.90" font-size="21" fill="#262626" text-anchor="start" textLength="41.4" lengthAdjust="spacingAndGlyphs"  stroke="#fff" stroke-width="0.3">250</text>
<text x="19.05" y="203.54" font-size="21" fill="#262626" text-anchor="start" textLength="41.4" lengthAdjust="spacingAndGlyphs"  stroke="#fff" stroke-width="0.3">300</text>
<text x="19.05" y="264.95" font-size="21" fill="#262626" text-anchor="start" textLength="41.4" lengthAdjust="spacingAndGlyphs"  stroke="#fff" stroke-width="0.3">350</text>
<text x="19.05" y="318.15" font-size="21" fill="#262626" text-anchor="start" textLength="41.4" lengthAdjust="spacingAndGlyphs"  stroke="#fff" stroke-width="0.3">400</text>
<text x="19.05" y="365.07" font-size="21" fill="#262626" text-anchor="start" textLength="41.4" lengthAdjust="spacingAndGlyphs"  stroke="#fff" stroke-width="0.3">450</text>
<text x="19.05" y="407.05" font-size="21" fill="#262626" text-anchor="start" textLength="41.4" lengthAdjust="spacingAndGlyphs"  stroke="#fff" stroke-width="0.3">500</text>
<text x="19.05" y="445.02" font-size="21" fill="#262626" text-anchor="start" textLength="41.4" lengthAdjust="spacingAndGlyphs"  stroke="#fff" stroke-width="0.3">550</text>
<text x="19.05" y="479.69" font-size="21" fill="#262626" text-anchor="start" textLength="41.4" lengthAdjust="spacingAndGlyphs"  stroke="#fff" stroke-width="0.3">600</text>
<text x="19.05" y="511.58" font-size="21" fill="#262626" text-anchor="start" textLength="41.4" lengthAdjust="spacingAndGlyphs"  stroke="#fff" stroke-width="0.3">650</text>
<text x="19.05" y="541.10" font-size="21" fill="#262626" text-anchor="start" textLength="41.4" lengthAdjust="spacingAndGlyphs"  stroke="#fff" stroke-width="0.3">700</text>
<text x="19.05" y="568.59" font-size="21" fill="#262626" text-anchor="start" textLength="41.4" lengthAdjust="spacingAndGlyphs"  stroke="#fff" stroke-width="0.3">750</text>
<text x="19.05" y="594.30" font-size="21" fill="#262626" text-anchor="start" textLength="41.4" lengthAdjust="spacingAndGlyphs"  stroke="#fff" stroke-width="0.3">800</text>
<text x="19.05" y="618.45" font-size="21" fill="#262626" text-anchor="start" textLength="41.4" lengthAdjust="spacingAndGlyphs"  stroke="#fff" stroke-width="0.3">850</text>
<text x="19.05" y="641.22" font-size="21" fill="#262626" text-anchor="start" textLength="41.4" lengthAdjust="spacingAndGlyphs"  stroke="#fff" stroke-width="0.3">900</text>
<text x="19.05" y="662.76" font-size="21" fill="#262626" text-anchor="start" textLength="41.4" lengthAdjust="spacingAndGlyphs"  stroke="#fff" stroke-width="0.3">950</text>
<text x="6.85" y="683.20" font-size="21" fill="#262626" text-anchor="start" textLength="53.6" lengthAdjust="spacingAndGlyphs"  stroke="#fff" stroke-width="0.3">1000</text>
<text x="152.50" y="718.30" font-size="17.8" fill="#262626" text-anchor="start" textLength="31.0" lengthAdjust="spacingAndGlyphs"  stroke="#fff" stroke-width="0.3">15Z</text>
<text x="298.90" y="718.30" font-size="17.8" fill="#262626" text-anchor="start" textLength="31.0" lengthAdjust="spacingAndGlyphs"  stroke="#fff" stroke-width="0.3">18Z</text>
<text x="445.30" y="718.30" font-size="17.8" fill="#262626" text-anchor="start" textLength="31.0" lengthAdjust="spacingAndGlyphs"  stroke="#fff" stroke-width="0.3">21Z</text>
<text x="591.70" y="718.30" font-size="17.8" fill="#262626" text-anchor="start" textLength="31.0" lengthAdjust="spacingAndGlyphs"  stroke="#fff" stroke-width="0.3">00Z</text>
<text x="738.10" y="718.30" font-size="17.8" fill="#262626" text-anchor="start" textLength="31.0" lengthAdjust="spacingAndGlyphs"  stroke="#fff" stroke-width="0.3">03Z</text>
<text x="884.50" y="718.30" font-size="17.8" fill="#262626" text-anchor="start" textLength="31.0" lengthAdjust="spacingAndGlyphs"  stroke="#fff" stroke-width="0.3">06Z</text>
<text x="141.75" y="738.00" font-size="17.8" fill="#262626" text-anchor="start" textLength="53.3" lengthAdjust="spacingAndGlyphs"  stroke="#fff" stroke-width="0.3">12OCT</text>
<text x="146.00" y="757.00" font-size="17.8" fill="#262626" text-anchor="start" textLength="43.3" lengthAdjust="spacingAndGlyphs"  stroke="#fff" stroke-width="0.3">2025</text>
<text x="581.50" y="738.00" font-size="17.8" fill="#262626" text-anchor="start" textLength="53.0" lengthAdjust="spacingAndGlyphs"  stroke="#fff" stroke-width="0.3">13OCT</text>
<text x="140.00" y="30.50" font-size="27.5" fill="#000" text-anchor="start" textLength="160.0" lengthAdjust="spacingAndGlyphs"  stroke="#fff" stroke-width="0.45">2025101213</text>
<text x="318.00" y="30.50" font-size="27.5" fill="#000" text-anchor="start" textLength="65.0" lengthAdjust="spacingAndGlyphs"  stroke="#fff" stroke-width="0.45">HRRR</text>
<text x="401.00" y="30.50" font-size="27.5" fill="#000" text-anchor="start" textLength="107.0" lengthAdjust="spacingAndGlyphs"  stroke="#fff" stroke-width="0.45">Forecast</text>
<text x="524.00" y="30.50" font-size="27.5" fill="#000" text-anchor="start" textLength="156.0" lengthAdjust="spacingAndGlyphs"  stroke="#fff" stroke-width="0.45">Temperature</text>
<text x="699.00" y="30.50" font-size="27.5" fill="#000" text-anchor="start" textLength="43.0" lengthAdjust="spacingAndGlyphs"  stroke="#fff" stroke-width="0.45">(ºC)</text>
<text x="761.00" y="30.50" font-size="27.5" fill="#000" text-anchor="start" textLength="31.0" lengthAdjust="spacingAndGlyphs"  stroke="#fff" stroke-width="0.45">for</text>
<text x="812.00" y="30.50" font-size="27.5" fill="#000" text-anchor="start" textLength="67.0" lengthAdjust="spacingAndGlyphs"  stroke="#fff" stroke-width="0.45">KCMH</text>
<text x="403.50" y="765.00" font-size="20" fill="#000" text-anchor="start" textLength="85.5" lengthAdjust="spacingAndGlyphs"  stroke="#fff" stroke-width="0.2">Forecast</text>
<text x="502.75" y="765.00" font-size="20" fill="#000" text-anchor="start" textLength="45.0" lengthAdjust="spacingAndGlyphs"  stroke="#fff" stroke-width="0.2">Time</text>
<text x="562.00" y="765.00" font-size="20" fill="#000" text-anchor="start" textLength="54.0" lengthAdjust="spacingAndGlyphs"  stroke="#fff" stroke-width="0.2">(UTC)</text>
<text x="826.75" y="760.25" font-size="16.5" fill="rgb(255,45,45)" text-anchor="start" textLength="187.5" lengthAdjust="spacingAndGlyphs"  stroke="#fff" stroke-width="0.4">coolwx.com/modelts</text>
</g>
<g shape-rendering="crispEdges">
<rect x="977" y="93.50" width="20" height="18.14" fill="rgb(255,0,60)"/>
<rect x="977" y="111.34" width="20" height="18.14" fill="rgb(255,15,0)"/>
<rect x="977" y="129.18" width="20" height="18.14" fill="rgb(255,50,0)"/>
<rect x="977" y="147.02" width="20" height="18.14" fill="rgb(255,85,0)"/>
<rect x="977" y="164.85" width="20" height="18.14" fill="rgb(255,110,0)"/>
<rect x="977" y="182.69" width="20" height="18.14" fill="rgb(255,140,0)"/>
<rect x="977" y="200.53" width="20" height="18.14" fill="rgb(255,165,0)"/>
<rect x="977" y="218.37" width="20" height="18.14" fill="rgb(255,195,0)"/>
<rect x="977" y="236.21" width="20" height="18.14" fill="rgb(255,225,0)"/>
<rect x="977" y="254.05" width="20" height="18.14" fill="rgb(255,255,0)"/>
<rect x="977" y="271.89" width="20" height="18.14" fill="rgb(255,255,255)"/>
<rect x="977" y="289.73" width="20" height="18.14" fill="rgb(85,255,0)"/>
<rect x="977" y="307.56" width="20" height="18.14" fill="rgb(0,255,70)"/>
<rect x="977" y="325.40" width="20" height="18.14" fill="rgb(0,255,130)"/>
<rect x="977" y="343.24" width="20" height="18.14" fill="rgb(0,255,170)"/>
<rect x="977" y="361.08" width="20" height="18.14" fill="rgb(0,255,205)"/>
<rect x="977" y="378.92" width="20" height="18.14" fill="rgb(0,235,255)"/>
<rect x="977" y="396.76" width="20" height="18.14" fill="rgb(0,185,255)"/>
<rect x="977" y="414.60" width="20" height="18.14" fill="rgb(0,150,255)"/>
<rect x="977" y="432.44" width="20" height="18.14" fill="rgb(0,115,255)"/>
<rect x="977" y="450.27" width="20" height="18.14" fill="rgb(0,78,255)"/>
<rect x="977" y="468.11" width="20" height="18.14" fill="rgb(0,30,255)"/>
<rect x="977" y="485.95" width="20" height="18.14" fill="rgb(0,0,255)"/>
<rect x="977" y="503.79" width="20" height="18.14" fill="rgb(40,0,255)"/>
<rect x="977" y="521.63" width="20" height="18.14" fill="rgb(80,0,255)"/>
<rect x="977" y="539.47" width="20" height="18.14" fill="rgb(110,0,255)"/>
<rect x="977" y="557.31" width="20" height="18.14" fill="rgb(140,0,255)"/>
<rect x="977" y="575.15" width="20" height="18.14" fill="rgb(180,0,255)"/>
<rect x="977" y="592.98" width="20" height="18.14" fill="rgb(207,0,255)"/>
<rect x="977" y="610.82" width="20" height="18.14" fill="rgb(255,0,255)"/>
<rect x="977" y="628.66" width="20" height="18.14" fill="rgb(255,0,238)"/>
</g>
<rect x="977" y="93.5" width="20" height="553" fill="none" stroke="#555" stroke-width="1"/>
<g font-family="'Liberation Sans', sans-serif" font-size="11.8" fill="#2a2a2a" opacity="0.999">
<line x1="977" y1="111.34" x2="981" y2="111.34" stroke="#444" stroke-width="1"/>
<line x1="993" y1="111.34" x2="997" y2="111.34" stroke="#444" stroke-width="1"/>
<text x="1001.8" y="115.94" textLength="12.6" lengthAdjust="spacingAndGlyphs">20</text>
<line x1="977" y1="129.18" x2="981" y2="129.18" stroke="#444" stroke-width="1"/>
<line x1="993" y1="129.18" x2="997" y2="129.18" stroke="#444" stroke-width="1"/>
<text x="1001.8" y="133.78" textLength="12.6" lengthAdjust="spacingAndGlyphs">18</text>
<line x1="977" y1="147.02" x2="981" y2="147.02" stroke="#444" stroke-width="1"/>
<line x1="993" y1="147.02" x2="997" y2="147.02" stroke="#444" stroke-width="1"/>
<text x="1001.8" y="151.62" textLength="12.6" lengthAdjust="spacingAndGlyphs">16</text>
<line x1="977" y1="164.85" x2="981" y2="164.85" stroke="#444" stroke-width="1"/>
<line x1="993" y1="164.85" x2="997" y2="164.85" stroke="#444" stroke-width="1"/>
<text x="1001.8" y="169.45" textLength="12.6" lengthAdjust="spacingAndGlyphs">14</text>
<line x1="977" y1="182.69" x2="981" y2="182.69" stroke="#444" stroke-width="1"/>
<line x1="993" y1="182.69" x2="997" y2="182.69" stroke="#444" stroke-width="1"/>
<text x="1001.8" y="187.29" textLength="12.6" lengthAdjust="spacingAndGlyphs">12</text>
<line x1="977" y1="200.53" x2="981" y2="200.53" stroke="#444" stroke-width="1"/>
<line x1="993" y1="200.53" x2="997" y2="200.53" stroke="#444" stroke-width="1"/>
<text x="1001.8" y="205.13" textLength="12.6" lengthAdjust="spacingAndGlyphs">10</text>
<line x1="977" y1="218.37" x2="981" y2="218.37" stroke="#444" stroke-width="1"/>
<line x1="993" y1="218.37" x2="997" y2="218.37" stroke="#444" stroke-width="1"/>
<text x="1001.8" y="222.97" textLength="6.3" lengthAdjust="spacingAndGlyphs">8</text>
<line x1="977" y1="236.21" x2="981" y2="236.21" stroke="#444" stroke-width="1"/>
<line x1="993" y1="236.21" x2="997" y2="236.21" stroke="#444" stroke-width="1"/>
<text x="1001.8" y="240.81" textLength="6.3" lengthAdjust="spacingAndGlyphs">6</text>
<line x1="977" y1="254.05" x2="981" y2="254.05" stroke="#444" stroke-width="1"/>
<line x1="993" y1="254.05" x2="997" y2="254.05" stroke="#444" stroke-width="1"/>
<text x="1001.8" y="258.65" textLength="6.3" lengthAdjust="spacingAndGlyphs">4</text>
<line x1="977" y1="271.89" x2="981" y2="271.89" stroke="#444" stroke-width="1"/>
<line x1="993" y1="271.89" x2="997" y2="271.89" stroke="#444" stroke-width="1"/>
<text x="1001.8" y="276.49" textLength="6.3" lengthAdjust="spacingAndGlyphs">2</text>
<line x1="977" y1="289.73" x2="981" y2="289.73" stroke="#444" stroke-width="1"/>
<line x1="993" y1="289.73" x2="997" y2="289.73" stroke="#444" stroke-width="1"/>
<text transform="translate(1001.30,293.43) scale(1.9,1)">-</text>
<text x="1010" y="294.33" textLength="6.3" lengthAdjust="spacingAndGlyphs">2</text>
<line x1="977" y1="307.56" x2="981" y2="307.56" stroke="#444" stroke-width="1"/>
<line x1="993" y1="307.56" x2="997" y2="307.56" stroke="#444" stroke-width="1"/>
<text transform="translate(1001.30,311.26) scale(1.9,1)">-</text>
<text x="1010" y="312.16" textLength="6.3" lengthAdjust="spacingAndGlyphs">4</text>
<line x1="977" y1="325.40" x2="981" y2="325.40" stroke="#444" stroke-width="1"/>
<line x1="993" y1="325.40" x2="997" y2="325.40" stroke="#444" stroke-width="1"/>
<text transform="translate(1001.30,329.10) scale(1.9,1)">-</text>
<text x="1010" y="330.00" textLength="6.3" lengthAdjust="spacingAndGlyphs">6</text>
<line x1="977" y1="343.24" x2="981" y2="343.24" stroke="#444" stroke-width="1"/>
<line x1="993" y1="343.24" x2="997" y2="343.24" stroke="#444" stroke-width="1"/>
<text transform="translate(1001.30,346.94) scale(1.9,1)">-</text>
<text x="1010" y="347.84" textLength="6.3" lengthAdjust="spacingAndGlyphs">8</text>
<line x1="977" y1="361.08" x2="981" y2="361.08" stroke="#444" stroke-width="1"/>
<line x1="993" y1="361.08" x2="997" y2="361.08" stroke="#444" stroke-width="1"/>
<text transform="translate(1001.30,364.78) scale(1.9,1)">-</text>
<text x="1010" y="365.68" textLength="12.6" lengthAdjust="spacingAndGlyphs">10</text>
<line x1="977" y1="378.92" x2="981" y2="378.92" stroke="#444" stroke-width="1"/>
<line x1="993" y1="378.92" x2="997" y2="378.92" stroke="#444" stroke-width="1"/>
<text transform="translate(1001.30,382.62) scale(1.9,1)">-</text>
<text x="1010" y="383.52" textLength="12.6" lengthAdjust="spacingAndGlyphs">12</text>
<line x1="977" y1="396.76" x2="981" y2="396.76" stroke="#444" stroke-width="1"/>
<line x1="993" y1="396.76" x2="997" y2="396.76" stroke="#444" stroke-width="1"/>
<text transform="translate(1001.30,400.46) scale(1.9,1)">-</text>
<text x="1010" y="401.36" textLength="12.6" lengthAdjust="spacingAndGlyphs">14</text>
<line x1="977" y1="414.60" x2="981" y2="414.60" stroke="#444" stroke-width="1"/>
<line x1="993" y1="414.60" x2="997" y2="414.60" stroke="#444" stroke-width="1"/>
<text transform="translate(1001.30,418.30) scale(1.9,1)">-</text>
<text x="1010" y="419.20" textLength="12.6" lengthAdjust="spacingAndGlyphs">16</text>
<line x1="977" y1="432.44" x2="981" y2="432.44" stroke="#444" stroke-width="1"/>
<line x1="993" y1="432.44" x2="997" y2="432.44" stroke="#444" stroke-width="1"/>
<text transform="translate(1001.30,436.14) scale(1.9,1)">-</text>
<text x="1010" y="437.04" textLength="12.6" lengthAdjust="spacingAndGlyphs">18</text>
<line x1="977" y1="450.27" x2="981" y2="450.27" stroke="#444" stroke-width="1"/>
<line x1="993" y1="450.27" x2="997" y2="450.27" stroke="#444" stroke-width="1"/>
<text transform="translate(1001.30,453.97) scale(1.9,1)">-</text>
<text x="1010" y="454.87" textLength="12.6" lengthAdjust="spacingAndGlyphs">20</text>
<line x1="977" y1="468.11" x2="981" y2="468.11" stroke="#444" stroke-width="1"/>
<line x1="993" y1="468.11" x2="997" y2="468.11" stroke="#444" stroke-width="1"/>
<text transform="translate(1001.30,471.81) scale(1.9,1)">-</text>
<text x="1010" y="472.71" textLength="12.6" lengthAdjust="spacingAndGlyphs">22</text>
<line x1="977" y1="485.95" x2="981" y2="485.95" stroke="#444" stroke-width="1"/>
<line x1="993" y1="485.95" x2="997" y2="485.95" stroke="#444" stroke-width="1"/>
<text transform="translate(1001.30,489.65) scale(1.9,1)">-</text>
<text x="1010" y="490.55" textLength="12.6" lengthAdjust="spacingAndGlyphs">24</text>
<line x1="977" y1="503.79" x2="981" y2="503.79" stroke="#444" stroke-width="1"/>
<line x1="993" y1="503.79" x2="997" y2="503.79" stroke="#444" stroke-width="1"/>
<text transform="translate(1001.30,507.49) scale(1.9,1)">-</text>
<text x="1010" y="508.39" textLength="12.6" lengthAdjust="spacingAndGlyphs">26</text>
<line x1="977" y1="521.63" x2="981" y2="521.63" stroke="#444" stroke-width="1"/>
<line x1="993" y1="521.63" x2="997" y2="521.63" stroke="#444" stroke-width="1"/>
<text transform="translate(1001.30,525.33) scale(1.9,1)">-</text>
<text x="1010" y="526.23" textLength="12.6" lengthAdjust="spacingAndGlyphs">28</text>
<line x1="977" y1="539.47" x2="981" y2="539.47" stroke="#444" stroke-width="1"/>
<line x1="993" y1="539.47" x2="997" y2="539.47" stroke="#444" stroke-width="1"/>
<text transform="translate(1001.30,543.17) scale(1.9,1)">-</text>
<text x="1010" y="544.07" textLength="12.6" lengthAdjust="spacingAndGlyphs">30</text>
<line x1="977" y1="557.31" x2="981" y2="557.31" stroke="#444" stroke-width="1"/>
<line x1="993" y1="557.31" x2="997" y2="557.31" stroke="#444" stroke-width="1"/>
<text transform="translate(1001.30,561.01) scale(1.9,1)">-</text>
<text x="1010" y="561.91" textLength="12.6" lengthAdjust="spacingAndGlyphs">32</text>
<line x1="977" y1="575.15" x2="981" y2="575.15" stroke="#444" stroke-width="1"/>
<line x1="993" y1="575.15" x2="997" y2="575.15" stroke="#444" stroke-width="1"/>
<text transform="translate(1001.30,578.85) scale(1.9,1)">-</text>
<text x="1010" y="579.75" textLength="12.6" lengthAdjust="spacingAndGlyphs">34</text>
<line x1="977" y1="592.98" x2="981" y2="592.98" stroke="#444" stroke-width="1"/>
<line x1="993" y1="592.98" x2="997" y2="592.98" stroke="#444" stroke-width="1"/>
<text transform="translate(1001.30,596.68) scale(1.9,1)">-</text>
<text x="1010" y="597.58" textLength="12.6" lengthAdjust="spacingAndGlyphs">36</text>
<line x1="977" y1="610.82" x2="981" y2="610.82" stroke="#444" stroke-width="1"/>
<line x1="993" y1="610.82" x2="997" y2="610.82" stroke="#444" stroke-width="1"/>
<text transform="translate(1001.30,614.52) scale(1.9,1)">-</text>
<text x="1010" y="615.42" textLength="12.6" lengthAdjust="spacingAndGlyphs">38</text>
<line x1="977" y1="628.66" x2="981" y2="628.66" stroke="#444" stroke-width="1"/>
<line x1="993" y1="628.66" x2="997" y2="628.66" stroke="#444" stroke-width="1"/>
<text transform="translate(1001.30,632.36) scale(1.9,1)">-</text>
<text x="1010" y="633.26" textLength="12.6" lengthAdjust="spacingAndGlyphs">40</text>
</g>
</svg>
</body></html>
